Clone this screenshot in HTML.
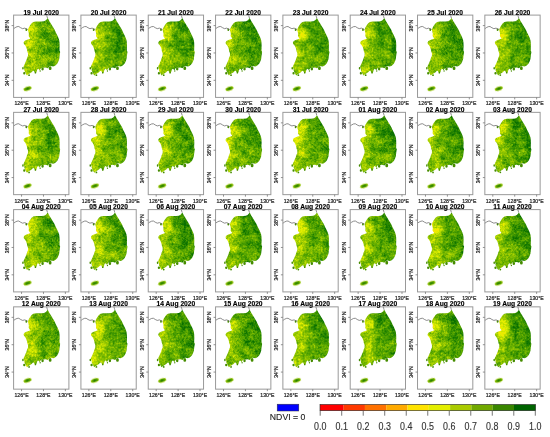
<!DOCTYPE html>
<html><head><meta charset="utf-8"><style>
html,body{margin:0;padding:0;background:#fff;width:550px;height:437px;overflow:hidden}
svg{display:block;will-change:transform}
text{font-family:"Liberation Sans",sans-serif}
.t{font-weight:bold;font-size:6.7px;fill:#000;stroke:#000;stroke-width:0.15;text-anchor:middle}
.a{font-size:5.2px;fill:#222;stroke:#222;stroke-width:0.2;text-anchor:middle}
.fr{fill:none;stroke:#999;stroke-width:1}
.tk{stroke:#777;stroke-width:0.8}
.nk{fill:none;stroke:#666;stroke-width:0.75}
</style></head><body>
<svg width="550" height="437" viewBox="0 0 550 437">
<defs>
<path id="kr" d="M14.61 13.57L15.49 11.97L16.37 10.37L18.01 8.10L19.66 6.90L22.40 6.49L25.14 6.36L27.88 6.36L30.40 6.23L31.93 5.43L33.03 4.36L33.90 2.89L34.67 3.96L35.66 5.83L36.97 7.96L38.29 10.23L39.38 11.97L41.03 14.64L42.34 17.57L43.77 20.51L44.86 22.91L45.63 25.05L45.96 27.59L46.07 30.92L45.96 33.60L45.96 35.60L46.62 36.80L46.29 38.67L45.96 40.94L45.63 44.01L44.86 46.14L43.77 48.28L42.34 50.02L41.03 50.95L39.60 51.35L38.51 51.08L37.19 50.95L35.88 51.22L34.78 52.55L33.90 53.09L33.03 52.55L31.71 52.29L30.40 52.69L28.97 52.55L27.55 52.82L26.67 54.15L26.12 55.49L25.36 54.15L24.26 53.62L23.49 54.95L22.94 56.82L21.96 58.03L20.86 56.96L20.31 55.76L19.11 56.02L18.01 57.09L16.81 57.89L15.71 58.69L14.40 59.49L13.41 60.43L12.53 59.23L11.76 57.36L10.78 55.76L10.67 53.62L9.90 52.02L10.34 50.28L11.00 49.08L11.87 47.21L12.86 44.94L13.41 42.81L14.40 40.54L14.40 38.27L13.63 36.26L13.30 34.26L12.53 31.99L11.55 30.26L10.34 28.79L10.01 27.45L10.89 25.85L12.86 24.78L15.05 24.25L16.81 23.45L15.71 22.11L15.05 20.78L15.27 18.64L14.83 16.77L14.40 15.17Z"/>
<path id="is" d="M35.11 53.09a1.42 1.87 0 1 0 2.85 0a1.42 1.87 0 1 0 -2.85 0ZM27.77 53.89a1.21 1.33 0 1 0 2.41 0a1.21 1.33 0 1 0 -2.41 0ZM25.90 55.89a0.66 0.80 0 1 0 1.32 0a0.66 0.80 0 1 0 -1.32 0ZM21.08 57.62a0.77 0.80 0 1 0 1.53 0a0.77 0.80 0 1 0 -1.53 0ZM14.61 60.03a0.88 0.80 0 1 0 1.75 0a0.88 0.80 0 1 0 -1.75 0ZM9.57 58.16a1.10 1.07 0 1 0 2.19 0a1.10 1.07 0 1 0 -2.19 0ZM8.59 53.09a0.77 1.07 0 1 0 1.53 0a0.77 1.07 0 1 0 -1.53 0ZM11.87 14.64a0.88 1.07 0 1 0 1.75 0a0.88 1.07 0 1 0 -1.75 0Z"/>
<path id="nk" d="M-0.07 13.70L1.57 12.50L3.44 11.57L5.19 11.43L7.05 12.64L9.02 13.57L11.22 13.04L12.86 13.84L14.18 14.37M33.90 2.89L33.47 1.55L32.92 -0.45"/>
<clipPath id="kc"><use href="#kr"/></clipPath>
<filter id="eb" x="-0.1" y="-0.1" width="1.2" height="1.2" color-interpolation-filters="sRGB"><feGaussianBlur stdDeviation="0.35"/></filter>
<radialGradient id="jg" cx="0.5" cy="0.5" r="0.5"><stop offset="0" stop-color="rgb(25,118,0)"/><stop offset="0.55" stop-color="rgb(78,155,0)"/><stop offset="1" stop-color="rgb(160,202,0)"/></radialGradient>
<filter id="jb" x="-0.3" y="-0.5" width="1.6" height="2"><feGaussianBlur stdDeviation="0.35"/></filter>
<ellipse id="jj" cx="13.95" cy="73.60" rx="4.1" ry="2.0" transform="rotate(-18 13.95 73.60)" fill="url(#jg)" filter="url(#jb)"/>
<linearGradient id="g0" gradientUnits="userSpaceOnUse" x1="10.89" y1="40" x2="43.77" y2="36"><stop offset="0.000" stop-color="rgb(175,175,175)"/><stop offset="0.233" stop-color="rgb(180,180,180)"/><stop offset="0.433" stop-color="rgb(193,193,193)"/><stop offset="0.667" stop-color="rgb(212,212,212)"/><stop offset="1.000" stop-color="rgb(219,219,219)"/></linearGradient>
<filter id="f0" x="0" y="0" width="1" height="1" color-interpolation-filters="sRGB">
<feTurbulence type="fractalNoise" baseFrequency="0.5" numOctaves="2" seed="3" result="n1"/>
<feTurbulence type="fractalNoise" baseFrequency="0.12" numOctaves="2" seed="5" result="n2"/>
<feColorMatrix in="n1" type="matrix" values="1 0 0 0 0  1 0 0 0 0  1 0 0 0 0  0 0 0 0 1" result="a1"/>
<feColorMatrix in="n2" type="matrix" values="1 0 0 0 0  1 0 0 0 0  1 0 0 0 0  0 0 0 0 1" result="a2"/>
<feComposite in="SourceGraphic" in2="a1" operator="arithmetic" k2="1" k3="0.3" k4="-0.150" result="v1"/>
<feComposite in="v1" in2="a2" operator="arithmetic" k2="1" k3="0.36" k4="-0.180" result="v2"/>
<feTurbulence type="fractalNoise" baseFrequency="0.55" numOctaves="1" seed="1" result="n3"/>
<feColorMatrix in="n3" type="matrix" values="0 1 0 0 0  0 1 0 0 0  0 1 0 0 0  0 0 0 0 1" result="s0"/>
<feComponentTransfer in="s0" result="s1"><feFuncR type="table" tableValues="0 0.15 0.45 0.8 1 1 1 1 1 1"/><feFuncG type="table" tableValues="0 0.15 0.45 0.8 1 1 1 1 1 1"/><feFuncB type="table" tableValues="0 0.15 0.45 0.8 1 1 1 1 1 1"/></feComponentTransfer>
<feComposite in="v2" in2="s1" operator="arithmetic" k2="1" k3="0.17" k4="-0.17" result="v"/>
<feComponentTransfer in="v">
<feFuncR type="table" tableValues="1.000 1.000 1.000 1.000 1.000 0.886 0.651 0.424 0.216 0.039"/>
<feFuncG type="table" tableValues="0.000 0.224 0.443 0.667 0.890 0.941 0.816 0.698 0.569 0.439"/>
<feFuncB type="table" tableValues="0.000 0.000 0.000 0.000 0.000 0.000 0.000 0.000 0.000 0.000"/>
<feFuncA type="linear" slope="0" intercept="1"/>
</feComponentTransfer>
<feGaussianBlur stdDeviation="0.5"/>
</filter>
<linearGradient id="g1" gradientUnits="userSpaceOnUse" x1="10.89" y1="40" x2="43.77" y2="36"><stop offset="0.000" stop-color="rgb(182,182,182)"/><stop offset="0.233" stop-color="rgb(187,187,187)"/><stop offset="0.433" stop-color="rgb(200,200,200)"/><stop offset="0.667" stop-color="rgb(219,219,219)"/><stop offset="1.000" stop-color="rgb(227,227,227)"/></linearGradient>
<filter id="f1" x="0" y="0" width="1" height="1" color-interpolation-filters="sRGB">
<feTurbulence type="fractalNoise" baseFrequency="0.5" numOctaves="2" seed="10" result="n1"/>
<feTurbulence type="fractalNoise" baseFrequency="0.12" numOctaves="2" seed="16" result="n2"/>
<feColorMatrix in="n1" type="matrix" values="1 0 0 0 0  1 0 0 0 0  1 0 0 0 0  0 0 0 0 1" result="a1"/>
<feColorMatrix in="n2" type="matrix" values="1 0 0 0 0  1 0 0 0 0  1 0 0 0 0  0 0 0 0 1" result="a2"/>
<feComposite in="SourceGraphic" in2="a1" operator="arithmetic" k2="1" k3="0.3" k4="-0.150" result="v1"/>
<feComposite in="v1" in2="a2" operator="arithmetic" k2="1" k3="0.36" k4="-0.180" result="v2"/>
<feTurbulence type="fractalNoise" baseFrequency="0.55" numOctaves="1" seed="14" result="n3"/>
<feColorMatrix in="n3" type="matrix" values="0 1 0 0 0  0 1 0 0 0  0 1 0 0 0  0 0 0 0 1" result="s0"/>
<feComponentTransfer in="s0" result="s1"><feFuncR type="table" tableValues="0 0.15 0.45 0.8 1 1 1 1 1 1"/><feFuncG type="table" tableValues="0 0.15 0.45 0.8 1 1 1 1 1 1"/><feFuncB type="table" tableValues="0 0.15 0.45 0.8 1 1 1 1 1 1"/></feComponentTransfer>
<feComposite in="v2" in2="s1" operator="arithmetic" k2="1" k3="0.17" k4="-0.17" result="v"/>
<feComponentTransfer in="v">
<feFuncR type="table" tableValues="1.000 1.000 1.000 1.000 1.000 0.886 0.651 0.424 0.216 0.039"/>
<feFuncG type="table" tableValues="0.000 0.224 0.443 0.667 0.890 0.941 0.816 0.698 0.569 0.439"/>
<feFuncB type="table" tableValues="0.000 0.000 0.000 0.000 0.000 0.000 0.000 0.000 0.000 0.000"/>
<feFuncA type="linear" slope="0" intercept="1"/>
</feComponentTransfer>
<feGaussianBlur stdDeviation="0.5"/>
</filter>
<linearGradient id="g2" gradientUnits="userSpaceOnUse" x1="10.89" y1="40" x2="43.77" y2="36"><stop offset="0.000" stop-color="rgb(182,182,182)"/><stop offset="0.233" stop-color="rgb(187,187,187)"/><stop offset="0.433" stop-color="rgb(200,200,200)"/><stop offset="0.667" stop-color="rgb(219,219,219)"/><stop offset="1.000" stop-color="rgb(227,227,227)"/></linearGradient>
<filter id="f2" x="0" y="0" width="1" height="1" color-interpolation-filters="sRGB">
<feTurbulence type="fractalNoise" baseFrequency="0.5" numOctaves="2" seed="17" result="n1"/>
<feTurbulence type="fractalNoise" baseFrequency="0.12" numOctaves="2" seed="27" result="n2"/>
<feColorMatrix in="n1" type="matrix" values="1 0 0 0 0  1 0 0 0 0  1 0 0 0 0  0 0 0 0 1" result="a1"/>
<feColorMatrix in="n2" type="matrix" values="1 0 0 0 0  1 0 0 0 0  1 0 0 0 0  0 0 0 0 1" result="a2"/>
<feComposite in="SourceGraphic" in2="a1" operator="arithmetic" k2="1" k3="0.3" k4="-0.150" result="v1"/>
<feComposite in="v1" in2="a2" operator="arithmetic" k2="1" k3="0.36" k4="-0.180" result="v2"/>
<feTurbulence type="fractalNoise" baseFrequency="0.55" numOctaves="1" seed="27" result="n3"/>
<feColorMatrix in="n3" type="matrix" values="0 1 0 0 0  0 1 0 0 0  0 1 0 0 0  0 0 0 0 1" result="s0"/>
<feComponentTransfer in="s0" result="s1"><feFuncR type="table" tableValues="0 0.15 0.45 0.8 1 1 1 1 1 1"/><feFuncG type="table" tableValues="0 0.15 0.45 0.8 1 1 1 1 1 1"/><feFuncB type="table" tableValues="0 0.15 0.45 0.8 1 1 1 1 1 1"/></feComponentTransfer>
<feComposite in="v2" in2="s1" operator="arithmetic" k2="1" k3="0.17" k4="-0.17" result="v"/>
<feComponentTransfer in="v">
<feFuncR type="table" tableValues="1.000 1.000 1.000 1.000 1.000 0.886 0.651 0.424 0.216 0.039"/>
<feFuncG type="table" tableValues="0.000 0.224 0.443 0.667 0.890 0.941 0.816 0.698 0.569 0.439"/>
<feFuncB type="table" tableValues="0.000 0.000 0.000 0.000 0.000 0.000 0.000 0.000 0.000 0.000"/>
<feFuncA type="linear" slope="0" intercept="1"/>
</feComponentTransfer>
<feGaussianBlur stdDeviation="0.5"/>
</filter>
<linearGradient id="g3" gradientUnits="userSpaceOnUse" x1="10.89" y1="40" x2="43.77" y2="36"><stop offset="0.000" stop-color="rgb(185,185,185)"/><stop offset="0.233" stop-color="rgb(190,190,190)"/><stop offset="0.433" stop-color="rgb(203,203,203)"/><stop offset="0.667" stop-color="rgb(222,222,222)"/><stop offset="1.000" stop-color="rgb(230,230,230)"/></linearGradient>
<filter id="f3" x="0" y="0" width="1" height="1" color-interpolation-filters="sRGB">
<feTurbulence type="fractalNoise" baseFrequency="0.5" numOctaves="2" seed="24" result="n1"/>
<feTurbulence type="fractalNoise" baseFrequency="0.12" numOctaves="2" seed="38" result="n2"/>
<feColorMatrix in="n1" type="matrix" values="1 0 0 0 0  1 0 0 0 0  1 0 0 0 0  0 0 0 0 1" result="a1"/>
<feColorMatrix in="n2" type="matrix" values="1 0 0 0 0  1 0 0 0 0  1 0 0 0 0  0 0 0 0 1" result="a2"/>
<feComposite in="SourceGraphic" in2="a1" operator="arithmetic" k2="1" k3="0.3" k4="-0.150" result="v1"/>
<feComposite in="v1" in2="a2" operator="arithmetic" k2="1" k3="0.36" k4="-0.180" result="v2"/>
<feTurbulence type="fractalNoise" baseFrequency="0.55" numOctaves="1" seed="40" result="n3"/>
<feColorMatrix in="n3" type="matrix" values="0 1 0 0 0  0 1 0 0 0  0 1 0 0 0  0 0 0 0 1" result="s0"/>
<feComponentTransfer in="s0" result="s1"><feFuncR type="table" tableValues="0 0.15 0.45 0.8 1 1 1 1 1 1"/><feFuncG type="table" tableValues="0 0.15 0.45 0.8 1 1 1 1 1 1"/><feFuncB type="table" tableValues="0 0.15 0.45 0.8 1 1 1 1 1 1"/></feComponentTransfer>
<feComposite in="v2" in2="s1" operator="arithmetic" k2="1" k3="0.17" k4="-0.17" result="v"/>
<feComponentTransfer in="v">
<feFuncR type="table" tableValues="1.000 1.000 1.000 1.000 1.000 0.886 0.651 0.424 0.216 0.039"/>
<feFuncG type="table" tableValues="0.000 0.224 0.443 0.667 0.890 0.941 0.816 0.698 0.569 0.439"/>
<feFuncB type="table" tableValues="0.000 0.000 0.000 0.000 0.000 0.000 0.000 0.000 0.000 0.000"/>
<feFuncA type="linear" slope="0" intercept="1"/>
</feComponentTransfer>
<feGaussianBlur stdDeviation="0.5"/>
</filter>
<linearGradient id="g4" gradientUnits="userSpaceOnUse" x1="10.89" y1="40" x2="43.77" y2="36"><stop offset="0.000" stop-color="rgb(182,182,182)"/><stop offset="0.233" stop-color="rgb(187,187,187)"/><stop offset="0.433" stop-color="rgb(200,200,200)"/><stop offset="0.667" stop-color="rgb(219,219,219)"/><stop offset="1.000" stop-color="rgb(227,227,227)"/></linearGradient>
<filter id="f4" x="0" y="0" width="1" height="1" color-interpolation-filters="sRGB">
<feTurbulence type="fractalNoise" baseFrequency="0.5" numOctaves="2" seed="31" result="n1"/>
<feTurbulence type="fractalNoise" baseFrequency="0.12" numOctaves="2" seed="49" result="n2"/>
<feColorMatrix in="n1" type="matrix" values="1 0 0 0 0  1 0 0 0 0  1 0 0 0 0  0 0 0 0 1" result="a1"/>
<feColorMatrix in="n2" type="matrix" values="1 0 0 0 0  1 0 0 0 0  1 0 0 0 0  0 0 0 0 1" result="a2"/>
<feComposite in="SourceGraphic" in2="a1" operator="arithmetic" k2="1" k3="0.3" k4="-0.150" result="v1"/>
<feComposite in="v1" in2="a2" operator="arithmetic" k2="1" k3="0.36" k4="-0.180" result="v2"/>
<feTurbulence type="fractalNoise" baseFrequency="0.55" numOctaves="1" seed="53" result="n3"/>
<feColorMatrix in="n3" type="matrix" values="0 1 0 0 0  0 1 0 0 0  0 1 0 0 0  0 0 0 0 1" result="s0"/>
<feComponentTransfer in="s0" result="s1"><feFuncR type="table" tableValues="0 0.15 0.45 0.8 1 1 1 1 1 1"/><feFuncG type="table" tableValues="0 0.15 0.45 0.8 1 1 1 1 1 1"/><feFuncB type="table" tableValues="0 0.15 0.45 0.8 1 1 1 1 1 1"/></feComponentTransfer>
<feComposite in="v2" in2="s1" operator="arithmetic" k2="1" k3="0.17" k4="-0.17" result="v"/>
<feComponentTransfer in="v">
<feFuncR type="table" tableValues="1.000 1.000 1.000 1.000 1.000 0.886 0.651 0.424 0.216 0.039"/>
<feFuncG type="table" tableValues="0.000 0.224 0.443 0.667 0.890 0.941 0.816 0.698 0.569 0.439"/>
<feFuncB type="table" tableValues="0.000 0.000 0.000 0.000 0.000 0.000 0.000 0.000 0.000 0.000"/>
<feFuncA type="linear" slope="0" intercept="1"/>
</feComponentTransfer>
<feGaussianBlur stdDeviation="0.5"/>
</filter>
<linearGradient id="g5" gradientUnits="userSpaceOnUse" x1="10.89" y1="40" x2="43.77" y2="36"><stop offset="0.000" stop-color="rgb(182,182,182)"/><stop offset="0.233" stop-color="rgb(187,187,187)"/><stop offset="0.433" stop-color="rgb(200,200,200)"/><stop offset="0.667" stop-color="rgb(219,219,219)"/><stop offset="1.000" stop-color="rgb(227,227,227)"/></linearGradient>
<filter id="f5" x="0" y="0" width="1" height="1" color-interpolation-filters="sRGB">
<feTurbulence type="fractalNoise" baseFrequency="0.5" numOctaves="2" seed="38" result="n1"/>
<feTurbulence type="fractalNoise" baseFrequency="0.12" numOctaves="2" seed="60" result="n2"/>
<feColorMatrix in="n1" type="matrix" values="1 0 0 0 0  1 0 0 0 0  1 0 0 0 0  0 0 0 0 1" result="a1"/>
<feColorMatrix in="n2" type="matrix" values="1 0 0 0 0  1 0 0 0 0  1 0 0 0 0  0 0 0 0 1" result="a2"/>
<feComposite in="SourceGraphic" in2="a1" operator="arithmetic" k2="1" k3="0.3" k4="-0.150" result="v1"/>
<feComposite in="v1" in2="a2" operator="arithmetic" k2="1" k3="0.36" k4="-0.180" result="v2"/>
<feTurbulence type="fractalNoise" baseFrequency="0.55" numOctaves="1" seed="66" result="n3"/>
<feColorMatrix in="n3" type="matrix" values="0 1 0 0 0  0 1 0 0 0  0 1 0 0 0  0 0 0 0 1" result="s0"/>
<feComponentTransfer in="s0" result="s1"><feFuncR type="table" tableValues="0 0.15 0.45 0.8 1 1 1 1 1 1"/><feFuncG type="table" tableValues="0 0.15 0.45 0.8 1 1 1 1 1 1"/><feFuncB type="table" tableValues="0 0.15 0.45 0.8 1 1 1 1 1 1"/></feComponentTransfer>
<feComposite in="v2" in2="s1" operator="arithmetic" k2="1" k3="0.17" k4="-0.17" result="v"/>
<feComponentTransfer in="v">
<feFuncR type="table" tableValues="1.000 1.000 1.000 1.000 1.000 0.886 0.651 0.424 0.216 0.039"/>
<feFuncG type="table" tableValues="0.000 0.224 0.443 0.667 0.890 0.941 0.816 0.698 0.569 0.439"/>
<feFuncB type="table" tableValues="0.000 0.000 0.000 0.000 0.000 0.000 0.000 0.000 0.000 0.000"/>
<feFuncA type="linear" slope="0" intercept="1"/>
</feComponentTransfer>
<feGaussianBlur stdDeviation="0.5"/>
</filter>
<linearGradient id="g6" gradientUnits="userSpaceOnUse" x1="10.89" y1="40" x2="43.77" y2="36"><stop offset="0.000" stop-color="rgb(187,187,187)"/><stop offset="0.233" stop-color="rgb(193,193,193)"/><stop offset="0.433" stop-color="rgb(205,205,205)"/><stop offset="0.667" stop-color="rgb(224,224,224)"/><stop offset="1.000" stop-color="rgb(232,232,232)"/></linearGradient>
<filter id="f6" x="0" y="0" width="1" height="1" color-interpolation-filters="sRGB">
<feTurbulence type="fractalNoise" baseFrequency="0.5" numOctaves="2" seed="45" result="n1"/>
<feTurbulence type="fractalNoise" baseFrequency="0.12" numOctaves="2" seed="71" result="n2"/>
<feColorMatrix in="n1" type="matrix" values="1 0 0 0 0  1 0 0 0 0  1 0 0 0 0  0 0 0 0 1" result="a1"/>
<feColorMatrix in="n2" type="matrix" values="1 0 0 0 0  1 0 0 0 0  1 0 0 0 0  0 0 0 0 1" result="a2"/>
<feComposite in="SourceGraphic" in2="a1" operator="arithmetic" k2="1" k3="0.3" k4="-0.150" result="v1"/>
<feComposite in="v1" in2="a2" operator="arithmetic" k2="1" k3="0.36" k4="-0.180" result="v2"/>
<feTurbulence type="fractalNoise" baseFrequency="0.55" numOctaves="1" seed="79" result="n3"/>
<feColorMatrix in="n3" type="matrix" values="0 1 0 0 0  0 1 0 0 0  0 1 0 0 0  0 0 0 0 1" result="s0"/>
<feComponentTransfer in="s0" result="s1"><feFuncR type="table" tableValues="0 0.15 0.45 0.8 1 1 1 1 1 1"/><feFuncG type="table" tableValues="0 0.15 0.45 0.8 1 1 1 1 1 1"/><feFuncB type="table" tableValues="0 0.15 0.45 0.8 1 1 1 1 1 1"/></feComponentTransfer>
<feComposite in="v2" in2="s1" operator="arithmetic" k2="1" k3="0.17" k4="-0.17" result="v"/>
<feComponentTransfer in="v">
<feFuncR type="table" tableValues="1.000 1.000 1.000 1.000 1.000 0.886 0.651 0.424 0.216 0.039"/>
<feFuncG type="table" tableValues="0.000 0.224 0.443 0.667 0.890 0.941 0.816 0.698 0.569 0.439"/>
<feFuncB type="table" tableValues="0.000 0.000 0.000 0.000 0.000 0.000 0.000 0.000 0.000 0.000"/>
<feFuncA type="linear" slope="0" intercept="1"/>
</feComponentTransfer>
<feGaussianBlur stdDeviation="0.5"/>
</filter>
<linearGradient id="g7" gradientUnits="userSpaceOnUse" x1="10.89" y1="40" x2="43.77" y2="36"><stop offset="0.000" stop-color="rgb(182,182,182)"/><stop offset="0.233" stop-color="rgb(187,187,187)"/><stop offset="0.433" stop-color="rgb(200,200,200)"/><stop offset="0.667" stop-color="rgb(219,219,219)"/><stop offset="1.000" stop-color="rgb(227,227,227)"/></linearGradient>
<filter id="f7" x="0" y="0" width="1" height="1" color-interpolation-filters="sRGB">
<feTurbulence type="fractalNoise" baseFrequency="0.5" numOctaves="2" seed="52" result="n1"/>
<feTurbulence type="fractalNoise" baseFrequency="0.12" numOctaves="2" seed="82" result="n2"/>
<feColorMatrix in="n1" type="matrix" values="1 0 0 0 0  1 0 0 0 0  1 0 0 0 0  0 0 0 0 1" result="a1"/>
<feColorMatrix in="n2" type="matrix" values="1 0 0 0 0  1 0 0 0 0  1 0 0 0 0  0 0 0 0 1" result="a2"/>
<feComposite in="SourceGraphic" in2="a1" operator="arithmetic" k2="1" k3="0.3" k4="-0.150" result="v1"/>
<feComposite in="v1" in2="a2" operator="arithmetic" k2="1" k3="0.36" k4="-0.180" result="v2"/>
<feTurbulence type="fractalNoise" baseFrequency="0.55" numOctaves="1" seed="92" result="n3"/>
<feColorMatrix in="n3" type="matrix" values="0 1 0 0 0  0 1 0 0 0  0 1 0 0 0  0 0 0 0 1" result="s0"/>
<feComponentTransfer in="s0" result="s1"><feFuncR type="table" tableValues="0 0.15 0.45 0.8 1 1 1 1 1 1"/><feFuncG type="table" tableValues="0 0.15 0.45 0.8 1 1 1 1 1 1"/><feFuncB type="table" tableValues="0 0.15 0.45 0.8 1 1 1 1 1 1"/></feComponentTransfer>
<feComposite in="v2" in2="s1" operator="arithmetic" k2="1" k3="0.17" k4="-0.17" result="v"/>
<feComponentTransfer in="v">
<feFuncR type="table" tableValues="1.000 1.000 1.000 1.000 1.000 0.886 0.651 0.424 0.216 0.039"/>
<feFuncG type="table" tableValues="0.000 0.224 0.443 0.667 0.890 0.941 0.816 0.698 0.569 0.439"/>
<feFuncB type="table" tableValues="0.000 0.000 0.000 0.000 0.000 0.000 0.000 0.000 0.000 0.000"/>
<feFuncA type="linear" slope="0" intercept="1"/>
</feComponentTransfer>
<feGaussianBlur stdDeviation="0.5"/>
</filter>
<linearGradient id="g8" gradientUnits="userSpaceOnUse" x1="10.89" y1="40" x2="43.77" y2="36"><stop offset="0.000" stop-color="rgb(176,176,176)"/><stop offset="0.233" stop-color="rgb(181,181,181)"/><stop offset="0.433" stop-color="rgb(194,194,194)"/><stop offset="0.667" stop-color="rgb(213,213,213)"/><stop offset="1.000" stop-color="rgb(221,221,221)"/></linearGradient>
<filter id="f8" x="0" y="0" width="1" height="1" color-interpolation-filters="sRGB">
<feTurbulence type="fractalNoise" baseFrequency="0.5" numOctaves="2" seed="59" result="n1"/>
<feTurbulence type="fractalNoise" baseFrequency="0.12" numOctaves="2" seed="93" result="n2"/>
<feColorMatrix in="n1" type="matrix" values="1 0 0 0 0  1 0 0 0 0  1 0 0 0 0  0 0 0 0 1" result="a1"/>
<feColorMatrix in="n2" type="matrix" values="1 0 0 0 0  1 0 0 0 0  1 0 0 0 0  0 0 0 0 1" result="a2"/>
<feComposite in="SourceGraphic" in2="a1" operator="arithmetic" k2="1" k3="0.3" k4="-0.150" result="v1"/>
<feComposite in="v1" in2="a2" operator="arithmetic" k2="1" k3="0.36" k4="-0.180" result="v2"/>
<feTurbulence type="fractalNoise" baseFrequency="0.55" numOctaves="1" seed="105" result="n3"/>
<feColorMatrix in="n3" type="matrix" values="0 1 0 0 0  0 1 0 0 0  0 1 0 0 0  0 0 0 0 1" result="s0"/>
<feComponentTransfer in="s0" result="s1"><feFuncR type="table" tableValues="0 0.15 0.45 0.8 1 1 1 1 1 1"/><feFuncG type="table" tableValues="0 0.15 0.45 0.8 1 1 1 1 1 1"/><feFuncB type="table" tableValues="0 0.15 0.45 0.8 1 1 1 1 1 1"/></feComponentTransfer>
<feComposite in="v2" in2="s1" operator="arithmetic" k2="1" k3="0.17" k4="-0.17" result="v"/>
<feComponentTransfer in="v">
<feFuncR type="table" tableValues="1.000 1.000 1.000 1.000 1.000 0.886 0.651 0.424 0.216 0.039"/>
<feFuncG type="table" tableValues="0.000 0.224 0.443 0.667 0.890 0.941 0.816 0.698 0.569 0.439"/>
<feFuncB type="table" tableValues="0.000 0.000 0.000 0.000 0.000 0.000 0.000 0.000 0.000 0.000"/>
<feFuncA type="linear" slope="0" intercept="1"/>
</feComponentTransfer>
<feGaussianBlur stdDeviation="0.5"/>
</filter>
<linearGradient id="g9" gradientUnits="userSpaceOnUse" x1="10.89" y1="40" x2="43.77" y2="36"><stop offset="0.000" stop-color="rgb(176,176,176)"/><stop offset="0.233" stop-color="rgb(181,181,181)"/><stop offset="0.433" stop-color="rgb(194,194,194)"/><stop offset="0.667" stop-color="rgb(213,213,213)"/><stop offset="1.000" stop-color="rgb(221,221,221)"/></linearGradient>
<filter id="f9" x="0" y="0" width="1" height="1" color-interpolation-filters="sRGB">
<feTurbulence type="fractalNoise" baseFrequency="0.5" numOctaves="2" seed="66" result="n1"/>
<feTurbulence type="fractalNoise" baseFrequency="0.12" numOctaves="2" seed="104" result="n2"/>
<feColorMatrix in="n1" type="matrix" values="1 0 0 0 0  1 0 0 0 0  1 0 0 0 0  0 0 0 0 1" result="a1"/>
<feColorMatrix in="n2" type="matrix" values="1 0 0 0 0  1 0 0 0 0  1 0 0 0 0  0 0 0 0 1" result="a2"/>
<feComposite in="SourceGraphic" in2="a1" operator="arithmetic" k2="1" k3="0.3" k4="-0.150" result="v1"/>
<feComposite in="v1" in2="a2" operator="arithmetic" k2="1" k3="0.36" k4="-0.180" result="v2"/>
<feTurbulence type="fractalNoise" baseFrequency="0.55" numOctaves="1" seed="118" result="n3"/>
<feColorMatrix in="n3" type="matrix" values="0 1 0 0 0  0 1 0 0 0  0 1 0 0 0  0 0 0 0 1" result="s0"/>
<feComponentTransfer in="s0" result="s1"><feFuncR type="table" tableValues="0 0.15 0.45 0.8 1 1 1 1 1 1"/><feFuncG type="table" tableValues="0 0.15 0.45 0.8 1 1 1 1 1 1"/><feFuncB type="table" tableValues="0 0.15 0.45 0.8 1 1 1 1 1 1"/></feComponentTransfer>
<feComposite in="v2" in2="s1" operator="arithmetic" k2="1" k3="0.17" k4="-0.17" result="v"/>
<feComponentTransfer in="v">
<feFuncR type="table" tableValues="1.000 1.000 1.000 1.000 1.000 0.886 0.651 0.424 0.216 0.039"/>
<feFuncG type="table" tableValues="0.000 0.224 0.443 0.667 0.890 0.941 0.816 0.698 0.569 0.439"/>
<feFuncB type="table" tableValues="0.000 0.000 0.000 0.000 0.000 0.000 0.000 0.000 0.000 0.000"/>
<feFuncA type="linear" slope="0" intercept="1"/>
</feComponentTransfer>
<feGaussianBlur stdDeviation="0.5"/>
</filter>
<linearGradient id="g10" gradientUnits="userSpaceOnUse" x1="10.89" y1="40" x2="43.77" y2="36"><stop offset="0.000" stop-color="rgb(182,182,182)"/><stop offset="0.233" stop-color="rgb(187,187,187)"/><stop offset="0.433" stop-color="rgb(200,200,200)"/><stop offset="0.667" stop-color="rgb(219,219,219)"/><stop offset="1.000" stop-color="rgb(227,227,227)"/></linearGradient>
<filter id="f10" x="0" y="0" width="1" height="1" color-interpolation-filters="sRGB">
<feTurbulence type="fractalNoise" baseFrequency="0.5" numOctaves="2" seed="73" result="n1"/>
<feTurbulence type="fractalNoise" baseFrequency="0.12" numOctaves="2" seed="115" result="n2"/>
<feColorMatrix in="n1" type="matrix" values="1 0 0 0 0  1 0 0 0 0  1 0 0 0 0  0 0 0 0 1" result="a1"/>
<feColorMatrix in="n2" type="matrix" values="1 0 0 0 0  1 0 0 0 0  1 0 0 0 0  0 0 0 0 1" result="a2"/>
<feComposite in="SourceGraphic" in2="a1" operator="arithmetic" k2="1" k3="0.3" k4="-0.150" result="v1"/>
<feComposite in="v1" in2="a2" operator="arithmetic" k2="1" k3="0.36" k4="-0.180" result="v2"/>
<feTurbulence type="fractalNoise" baseFrequency="0.55" numOctaves="1" seed="131" result="n3"/>
<feColorMatrix in="n3" type="matrix" values="0 1 0 0 0  0 1 0 0 0  0 1 0 0 0  0 0 0 0 1" result="s0"/>
<feComponentTransfer in="s0" result="s1"><feFuncR type="table" tableValues="0 0.15 0.45 0.8 1 1 1 1 1 1"/><feFuncG type="table" tableValues="0 0.15 0.45 0.8 1 1 1 1 1 1"/><feFuncB type="table" tableValues="0 0.15 0.45 0.8 1 1 1 1 1 1"/></feComponentTransfer>
<feComposite in="v2" in2="s1" operator="arithmetic" k2="1" k3="0.17" k4="-0.17" result="v"/>
<feComponentTransfer in="v">
<feFuncR type="table" tableValues="1.000 1.000 1.000 1.000 1.000 0.886 0.651 0.424 0.216 0.039"/>
<feFuncG type="table" tableValues="0.000 0.224 0.443 0.667 0.890 0.941 0.816 0.698 0.569 0.439"/>
<feFuncB type="table" tableValues="0.000 0.000 0.000 0.000 0.000 0.000 0.000 0.000 0.000 0.000"/>
<feFuncA type="linear" slope="0" intercept="1"/>
</feComponentTransfer>
<feGaussianBlur stdDeviation="0.5"/>
</filter>
<linearGradient id="g11" gradientUnits="userSpaceOnUse" x1="10.89" y1="40" x2="43.77" y2="36"><stop offset="0.000" stop-color="rgb(180,180,180)"/><stop offset="0.233" stop-color="rgb(185,185,185)"/><stop offset="0.433" stop-color="rgb(198,198,198)"/><stop offset="0.667" stop-color="rgb(217,217,217)"/><stop offset="1.000" stop-color="rgb(224,224,224)"/></linearGradient>
<filter id="f11" x="0" y="0" width="1" height="1" color-interpolation-filters="sRGB">
<feTurbulence type="fractalNoise" baseFrequency="0.5" numOctaves="2" seed="80" result="n1"/>
<feTurbulence type="fractalNoise" baseFrequency="0.12" numOctaves="2" seed="126" result="n2"/>
<feColorMatrix in="n1" type="matrix" values="1 0 0 0 0  1 0 0 0 0  1 0 0 0 0  0 0 0 0 1" result="a1"/>
<feColorMatrix in="n2" type="matrix" values="1 0 0 0 0  1 0 0 0 0  1 0 0 0 0  0 0 0 0 1" result="a2"/>
<feComposite in="SourceGraphic" in2="a1" operator="arithmetic" k2="1" k3="0.3" k4="-0.150" result="v1"/>
<feComposite in="v1" in2="a2" operator="arithmetic" k2="1" k3="0.36" k4="-0.180" result="v2"/>
<feTurbulence type="fractalNoise" baseFrequency="0.55" numOctaves="1" seed="144" result="n3"/>
<feColorMatrix in="n3" type="matrix" values="0 1 0 0 0  0 1 0 0 0  0 1 0 0 0  0 0 0 0 1" result="s0"/>
<feComponentTransfer in="s0" result="s1"><feFuncR type="table" tableValues="0 0.15 0.45 0.8 1 1 1 1 1 1"/><feFuncG type="table" tableValues="0 0.15 0.45 0.8 1 1 1 1 1 1"/><feFuncB type="table" tableValues="0 0.15 0.45 0.8 1 1 1 1 1 1"/></feComponentTransfer>
<feComposite in="v2" in2="s1" operator="arithmetic" k2="1" k3="0.17" k4="-0.17" result="v"/>
<feComponentTransfer in="v">
<feFuncR type="table" tableValues="1.000 1.000 1.000 1.000 1.000 0.886 0.651 0.424 0.216 0.039"/>
<feFuncG type="table" tableValues="0.000 0.224 0.443 0.667 0.890 0.941 0.816 0.698 0.569 0.439"/>
<feFuncB type="table" tableValues="0.000 0.000 0.000 0.000 0.000 0.000 0.000 0.000 0.000 0.000"/>
<feFuncA type="linear" slope="0" intercept="1"/>
</feComponentTransfer>
<feGaussianBlur stdDeviation="0.5"/>
</filter>
<linearGradient id="g12" gradientUnits="userSpaceOnUse" x1="10.89" y1="40" x2="43.77" y2="36"><stop offset="0.000" stop-color="rgb(176,176,176)"/><stop offset="0.233" stop-color="rgb(181,181,181)"/><stop offset="0.433" stop-color="rgb(194,194,194)"/><stop offset="0.667" stop-color="rgb(213,213,213)"/><stop offset="1.000" stop-color="rgb(221,221,221)"/></linearGradient>
<filter id="f12" x="0" y="0" width="1" height="1" color-interpolation-filters="sRGB">
<feTurbulence type="fractalNoise" baseFrequency="0.5" numOctaves="2" seed="87" result="n1"/>
<feTurbulence type="fractalNoise" baseFrequency="0.12" numOctaves="2" seed="137" result="n2"/>
<feColorMatrix in="n1" type="matrix" values="1 0 0 0 0  1 0 0 0 0  1 0 0 0 0  0 0 0 0 1" result="a1"/>
<feColorMatrix in="n2" type="matrix" values="1 0 0 0 0  1 0 0 0 0  1 0 0 0 0  0 0 0 0 1" result="a2"/>
<feComposite in="SourceGraphic" in2="a1" operator="arithmetic" k2="1" k3="0.3" k4="-0.150" result="v1"/>
<feComposite in="v1" in2="a2" operator="arithmetic" k2="1" k3="0.36" k4="-0.180" result="v2"/>
<feTurbulence type="fractalNoise" baseFrequency="0.55" numOctaves="1" seed="157" result="n3"/>
<feColorMatrix in="n3" type="matrix" values="0 1 0 0 0  0 1 0 0 0  0 1 0 0 0  0 0 0 0 1" result="s0"/>
<feComponentTransfer in="s0" result="s1"><feFuncR type="table" tableValues="0 0.15 0.45 0.8 1 1 1 1 1 1"/><feFuncG type="table" tableValues="0 0.15 0.45 0.8 1 1 1 1 1 1"/><feFuncB type="table" tableValues="0 0.15 0.45 0.8 1 1 1 1 1 1"/></feComponentTransfer>
<feComposite in="v2" in2="s1" operator="arithmetic" k2="1" k3="0.17" k4="-0.17" result="v"/>
<feComponentTransfer in="v">
<feFuncR type="table" tableValues="1.000 1.000 1.000 1.000 1.000 0.886 0.651 0.424 0.216 0.039"/>
<feFuncG type="table" tableValues="0.000 0.224 0.443 0.667 0.890 0.941 0.816 0.698 0.569 0.439"/>
<feFuncB type="table" tableValues="0.000 0.000 0.000 0.000 0.000 0.000 0.000 0.000 0.000 0.000"/>
<feFuncA type="linear" slope="0" intercept="1"/>
</feComponentTransfer>
<feGaussianBlur stdDeviation="0.5"/>
</filter>
<linearGradient id="g13" gradientUnits="userSpaceOnUse" x1="10.89" y1="40" x2="43.77" y2="36"><stop offset="0.000" stop-color="rgb(186,186,186)"/><stop offset="0.233" stop-color="rgb(191,191,191)"/><stop offset="0.433" stop-color="rgb(204,204,204)"/><stop offset="0.667" stop-color="rgb(223,223,223)"/><stop offset="1.000" stop-color="rgb(231,231,231)"/></linearGradient>
<filter id="f13" x="0" y="0" width="1" height="1" color-interpolation-filters="sRGB">
<feTurbulence type="fractalNoise" baseFrequency="0.5" numOctaves="2" seed="94" result="n1"/>
<feTurbulence type="fractalNoise" baseFrequency="0.12" numOctaves="2" seed="148" result="n2"/>
<feColorMatrix in="n1" type="matrix" values="1 0 0 0 0  1 0 0 0 0  1 0 0 0 0  0 0 0 0 1" result="a1"/>
<feColorMatrix in="n2" type="matrix" values="1 0 0 0 0  1 0 0 0 0  1 0 0 0 0  0 0 0 0 1" result="a2"/>
<feComposite in="SourceGraphic" in2="a1" operator="arithmetic" k2="1" k3="0.3" k4="-0.150" result="v1"/>
<feComposite in="v1" in2="a2" operator="arithmetic" k2="1" k3="0.36" k4="-0.180" result="v2"/>
<feTurbulence type="fractalNoise" baseFrequency="0.55" numOctaves="1" seed="170" result="n3"/>
<feColorMatrix in="n3" type="matrix" values="0 1 0 0 0  0 1 0 0 0  0 1 0 0 0  0 0 0 0 1" result="s0"/>
<feComponentTransfer in="s0" result="s1"><feFuncR type="table" tableValues="0 0.15 0.45 0.8 1 1 1 1 1 1"/><feFuncG type="table" tableValues="0 0.15 0.45 0.8 1 1 1 1 1 1"/><feFuncB type="table" tableValues="0 0.15 0.45 0.8 1 1 1 1 1 1"/></feComponentTransfer>
<feComposite in="v2" in2="s1" operator="arithmetic" k2="1" k3="0.17" k4="-0.17" result="v"/>
<feComponentTransfer in="v">
<feFuncR type="table" tableValues="1.000 1.000 1.000 1.000 1.000 0.886 0.651 0.424 0.216 0.039"/>
<feFuncG type="table" tableValues="0.000 0.224 0.443 0.667 0.890 0.941 0.816 0.698 0.569 0.439"/>
<feFuncB type="table" tableValues="0.000 0.000 0.000 0.000 0.000 0.000 0.000 0.000 0.000 0.000"/>
<feFuncA type="linear" slope="0" intercept="1"/>
</feComponentTransfer>
<feGaussianBlur stdDeviation="0.5"/>
</filter>
<linearGradient id="g14" gradientUnits="userSpaceOnUse" x1="10.89" y1="40" x2="43.77" y2="36"><stop offset="0.000" stop-color="rgb(185,185,185)"/><stop offset="0.233" stop-color="rgb(190,190,190)"/><stop offset="0.433" stop-color="rgb(203,203,203)"/><stop offset="0.667" stop-color="rgb(222,222,222)"/><stop offset="1.000" stop-color="rgb(230,230,230)"/></linearGradient>
<filter id="f14" x="0" y="0" width="1" height="1" color-interpolation-filters="sRGB">
<feTurbulence type="fractalNoise" baseFrequency="0.5" numOctaves="2" seed="101" result="n1"/>
<feTurbulence type="fractalNoise" baseFrequency="0.12" numOctaves="2" seed="159" result="n2"/>
<feColorMatrix in="n1" type="matrix" values="1 0 0 0 0  1 0 0 0 0  1 0 0 0 0  0 0 0 0 1" result="a1"/>
<feColorMatrix in="n2" type="matrix" values="1 0 0 0 0  1 0 0 0 0  1 0 0 0 0  0 0 0 0 1" result="a2"/>
<feComposite in="SourceGraphic" in2="a1" operator="arithmetic" k2="1" k3="0.3" k4="-0.150" result="v1"/>
<feComposite in="v1" in2="a2" operator="arithmetic" k2="1" k3="0.36" k4="-0.180" result="v2"/>
<feTurbulence type="fractalNoise" baseFrequency="0.55" numOctaves="1" seed="183" result="n3"/>
<feColorMatrix in="n3" type="matrix" values="0 1 0 0 0  0 1 0 0 0  0 1 0 0 0  0 0 0 0 1" result="s0"/>
<feComponentTransfer in="s0" result="s1"><feFuncR type="table" tableValues="0 0.15 0.45 0.8 1 1 1 1 1 1"/><feFuncG type="table" tableValues="0 0.15 0.45 0.8 1 1 1 1 1 1"/><feFuncB type="table" tableValues="0 0.15 0.45 0.8 1 1 1 1 1 1"/></feComponentTransfer>
<feComposite in="v2" in2="s1" operator="arithmetic" k2="1" k3="0.17" k4="-0.17" result="v"/>
<feComponentTransfer in="v">
<feFuncR type="table" tableValues="1.000 1.000 1.000 1.000 1.000 0.886 0.651 0.424 0.216 0.039"/>
<feFuncG type="table" tableValues="0.000 0.224 0.443 0.667 0.890 0.941 0.816 0.698 0.569 0.439"/>
<feFuncB type="table" tableValues="0.000 0.000 0.000 0.000 0.000 0.000 0.000 0.000 0.000 0.000"/>
<feFuncA type="linear" slope="0" intercept="1"/>
</feComponentTransfer>
<feGaussianBlur stdDeviation="0.5"/>
</filter>
<linearGradient id="g15" gradientUnits="userSpaceOnUse" x1="10.89" y1="40" x2="43.77" y2="36"><stop offset="0.000" stop-color="rgb(187,187,187)"/><stop offset="0.233" stop-color="rgb(193,193,193)"/><stop offset="0.433" stop-color="rgb(205,205,205)"/><stop offset="0.667" stop-color="rgb(224,224,224)"/><stop offset="1.000" stop-color="rgb(232,232,232)"/></linearGradient>
<filter id="f15" x="0" y="0" width="1" height="1" color-interpolation-filters="sRGB">
<feTurbulence type="fractalNoise" baseFrequency="0.5" numOctaves="2" seed="108" result="n1"/>
<feTurbulence type="fractalNoise" baseFrequency="0.12" numOctaves="2" seed="170" result="n2"/>
<feColorMatrix in="n1" type="matrix" values="1 0 0 0 0  1 0 0 0 0  1 0 0 0 0  0 0 0 0 1" result="a1"/>
<feColorMatrix in="n2" type="matrix" values="1 0 0 0 0  1 0 0 0 0  1 0 0 0 0  0 0 0 0 1" result="a2"/>
<feComposite in="SourceGraphic" in2="a1" operator="arithmetic" k2="1" k3="0.3" k4="-0.150" result="v1"/>
<feComposite in="v1" in2="a2" operator="arithmetic" k2="1" k3="0.36" k4="-0.180" result="v2"/>
<feTurbulence type="fractalNoise" baseFrequency="0.55" numOctaves="1" seed="196" result="n3"/>
<feColorMatrix in="n3" type="matrix" values="0 1 0 0 0  0 1 0 0 0  0 1 0 0 0  0 0 0 0 1" result="s0"/>
<feComponentTransfer in="s0" result="s1"><feFuncR type="table" tableValues="0 0.15 0.45 0.8 1 1 1 1 1 1"/><feFuncG type="table" tableValues="0 0.15 0.45 0.8 1 1 1 1 1 1"/><feFuncB type="table" tableValues="0 0.15 0.45 0.8 1 1 1 1 1 1"/></feComponentTransfer>
<feComposite in="v2" in2="s1" operator="arithmetic" k2="1" k3="0.17" k4="-0.17" result="v"/>
<feComponentTransfer in="v">
<feFuncR type="table" tableValues="1.000 1.000 1.000 1.000 1.000 0.886 0.651 0.424 0.216 0.039"/>
<feFuncG type="table" tableValues="0.000 0.224 0.443 0.667 0.890 0.941 0.816 0.698 0.569 0.439"/>
<feFuncB type="table" tableValues="0.000 0.000 0.000 0.000 0.000 0.000 0.000 0.000 0.000 0.000"/>
<feFuncA type="linear" slope="0" intercept="1"/>
</feComponentTransfer>
<feGaussianBlur stdDeviation="0.5"/>
</filter>
<linearGradient id="g16" gradientUnits="userSpaceOnUse" x1="10.89" y1="40" x2="43.77" y2="36"><stop offset="0.000" stop-color="rgb(176,176,176)"/><stop offset="0.233" stop-color="rgb(181,181,181)"/><stop offset="0.433" stop-color="rgb(194,194,194)"/><stop offset="0.667" stop-color="rgb(213,213,213)"/><stop offset="1.000" stop-color="rgb(221,221,221)"/></linearGradient>
<filter id="f16" x="0" y="0" width="1" height="1" color-interpolation-filters="sRGB">
<feTurbulence type="fractalNoise" baseFrequency="0.5" numOctaves="2" seed="115" result="n1"/>
<feTurbulence type="fractalNoise" baseFrequency="0.12" numOctaves="2" seed="181" result="n2"/>
<feColorMatrix in="n1" type="matrix" values="1 0 0 0 0  1 0 0 0 0  1 0 0 0 0  0 0 0 0 1" result="a1"/>
<feColorMatrix in="n2" type="matrix" values="1 0 0 0 0  1 0 0 0 0  1 0 0 0 0  0 0 0 0 1" result="a2"/>
<feComposite in="SourceGraphic" in2="a1" operator="arithmetic" k2="1" k3="0.3" k4="-0.150" result="v1"/>
<feComposite in="v1" in2="a2" operator="arithmetic" k2="1" k3="0.36" k4="-0.180" result="v2"/>
<feTurbulence type="fractalNoise" baseFrequency="0.55" numOctaves="1" seed="209" result="n3"/>
<feColorMatrix in="n3" type="matrix" values="0 1 0 0 0  0 1 0 0 0  0 1 0 0 0  0 0 0 0 1" result="s0"/>
<feComponentTransfer in="s0" result="s1"><feFuncR type="table" tableValues="0 0.15 0.45 0.8 1 1 1 1 1 1"/><feFuncG type="table" tableValues="0 0.15 0.45 0.8 1 1 1 1 1 1"/><feFuncB type="table" tableValues="0 0.15 0.45 0.8 1 1 1 1 1 1"/></feComponentTransfer>
<feComposite in="v2" in2="s1" operator="arithmetic" k2="1" k3="0.17" k4="-0.17" result="v"/>
<feComponentTransfer in="v">
<feFuncR type="table" tableValues="1.000 1.000 1.000 1.000 1.000 0.886 0.651 0.424 0.216 0.039"/>
<feFuncG type="table" tableValues="0.000 0.224 0.443 0.667 0.890 0.941 0.816 0.698 0.569 0.439"/>
<feFuncB type="table" tableValues="0.000 0.000 0.000 0.000 0.000 0.000 0.000 0.000 0.000 0.000"/>
<feFuncA type="linear" slope="0" intercept="1"/>
</feComponentTransfer>
<feGaussianBlur stdDeviation="0.5"/>
</filter>
<linearGradient id="g17" gradientUnits="userSpaceOnUse" x1="10.89" y1="40" x2="43.77" y2="36"><stop offset="0.000" stop-color="rgb(176,176,176)"/><stop offset="0.233" stop-color="rgb(181,181,181)"/><stop offset="0.433" stop-color="rgb(194,194,194)"/><stop offset="0.667" stop-color="rgb(213,213,213)"/><stop offset="1.000" stop-color="rgb(221,221,221)"/></linearGradient>
<filter id="f17" x="0" y="0" width="1" height="1" color-interpolation-filters="sRGB">
<feTurbulence type="fractalNoise" baseFrequency="0.5" numOctaves="2" seed="122" result="n1"/>
<feTurbulence type="fractalNoise" baseFrequency="0.12" numOctaves="2" seed="192" result="n2"/>
<feColorMatrix in="n1" type="matrix" values="1 0 0 0 0  1 0 0 0 0  1 0 0 0 0  0 0 0 0 1" result="a1"/>
<feColorMatrix in="n2" type="matrix" values="1 0 0 0 0  1 0 0 0 0  1 0 0 0 0  0 0 0 0 1" result="a2"/>
<feComposite in="SourceGraphic" in2="a1" operator="arithmetic" k2="1" k3="0.3" k4="-0.150" result="v1"/>
<feComposite in="v1" in2="a2" operator="arithmetic" k2="1" k3="0.36" k4="-0.180" result="v2"/>
<feTurbulence type="fractalNoise" baseFrequency="0.55" numOctaves="1" seed="222" result="n3"/>
<feColorMatrix in="n3" type="matrix" values="0 1 0 0 0  0 1 0 0 0  0 1 0 0 0  0 0 0 0 1" result="s0"/>
<feComponentTransfer in="s0" result="s1"><feFuncR type="table" tableValues="0 0.15 0.45 0.8 1 1 1 1 1 1"/><feFuncG type="table" tableValues="0 0.15 0.45 0.8 1 1 1 1 1 1"/><feFuncB type="table" tableValues="0 0.15 0.45 0.8 1 1 1 1 1 1"/></feComponentTransfer>
<feComposite in="v2" in2="s1" operator="arithmetic" k2="1" k3="0.17" k4="-0.17" result="v"/>
<feComponentTransfer in="v">
<feFuncR type="table" tableValues="1.000 1.000 1.000 1.000 1.000 0.886 0.651 0.424 0.216 0.039"/>
<feFuncG type="table" tableValues="0.000 0.224 0.443 0.667 0.890 0.941 0.816 0.698 0.569 0.439"/>
<feFuncB type="table" tableValues="0.000 0.000 0.000 0.000 0.000 0.000 0.000 0.000 0.000 0.000"/>
<feFuncA type="linear" slope="0" intercept="1"/>
</feComponentTransfer>
<feGaussianBlur stdDeviation="0.5"/>
</filter>
<linearGradient id="g18" gradientUnits="userSpaceOnUse" x1="10.89" y1="40" x2="43.77" y2="36"><stop offset="0.000" stop-color="rgb(186,186,186)"/><stop offset="0.233" stop-color="rgb(191,191,191)"/><stop offset="0.433" stop-color="rgb(204,204,204)"/><stop offset="0.667" stop-color="rgb(223,223,223)"/><stop offset="1.000" stop-color="rgb(231,231,231)"/></linearGradient>
<filter id="f18" x="0" y="0" width="1" height="1" color-interpolation-filters="sRGB">
<feTurbulence type="fractalNoise" baseFrequency="0.5" numOctaves="2" seed="129" result="n1"/>
<feTurbulence type="fractalNoise" baseFrequency="0.12" numOctaves="2" seed="203" result="n2"/>
<feColorMatrix in="n1" type="matrix" values="1 0 0 0 0  1 0 0 0 0  1 0 0 0 0  0 0 0 0 1" result="a1"/>
<feColorMatrix in="n2" type="matrix" values="1 0 0 0 0  1 0 0 0 0  1 0 0 0 0  0 0 0 0 1" result="a2"/>
<feComposite in="SourceGraphic" in2="a1" operator="arithmetic" k2="1" k3="0.3" k4="-0.150" result="v1"/>
<feComposite in="v1" in2="a2" operator="arithmetic" k2="1" k3="0.36" k4="-0.180" result="v2"/>
<feTurbulence type="fractalNoise" baseFrequency="0.55" numOctaves="1" seed="235" result="n3"/>
<feColorMatrix in="n3" type="matrix" values="0 1 0 0 0  0 1 0 0 0  0 1 0 0 0  0 0 0 0 1" result="s0"/>
<feComponentTransfer in="s0" result="s1"><feFuncR type="table" tableValues="0 0.15 0.45 0.8 1 1 1 1 1 1"/><feFuncG type="table" tableValues="0 0.15 0.45 0.8 1 1 1 1 1 1"/><feFuncB type="table" tableValues="0 0.15 0.45 0.8 1 1 1 1 1 1"/></feComponentTransfer>
<feComposite in="v2" in2="s1" operator="arithmetic" k2="1" k3="0.17" k4="-0.17" result="v"/>
<feComponentTransfer in="v">
<feFuncR type="table" tableValues="1.000 1.000 1.000 1.000 1.000 0.886 0.651 0.424 0.216 0.039"/>
<feFuncG type="table" tableValues="0.000 0.224 0.443 0.667 0.890 0.941 0.816 0.698 0.569 0.439"/>
<feFuncB type="table" tableValues="0.000 0.000 0.000 0.000 0.000 0.000 0.000 0.000 0.000 0.000"/>
<feFuncA type="linear" slope="0" intercept="1"/>
</feComponentTransfer>
<feGaussianBlur stdDeviation="0.5"/>
</filter>
<linearGradient id="g19" gradientUnits="userSpaceOnUse" x1="10.89" y1="40" x2="43.77" y2="36"><stop offset="0.000" stop-color="rgb(186,186,186)"/><stop offset="0.233" stop-color="rgb(191,191,191)"/><stop offset="0.433" stop-color="rgb(204,204,204)"/><stop offset="0.667" stop-color="rgb(223,223,223)"/><stop offset="1.000" stop-color="rgb(231,231,231)"/></linearGradient>
<filter id="f19" x="0" y="0" width="1" height="1" color-interpolation-filters="sRGB">
<feTurbulence type="fractalNoise" baseFrequency="0.5" numOctaves="2" seed="136" result="n1"/>
<feTurbulence type="fractalNoise" baseFrequency="0.12" numOctaves="2" seed="214" result="n2"/>
<feColorMatrix in="n1" type="matrix" values="1 0 0 0 0  1 0 0 0 0  1 0 0 0 0  0 0 0 0 1" result="a1"/>
<feColorMatrix in="n2" type="matrix" values="1 0 0 0 0  1 0 0 0 0  1 0 0 0 0  0 0 0 0 1" result="a2"/>
<feComposite in="SourceGraphic" in2="a1" operator="arithmetic" k2="1" k3="0.3" k4="-0.150" result="v1"/>
<feComposite in="v1" in2="a2" operator="arithmetic" k2="1" k3="0.36" k4="-0.180" result="v2"/>
<feTurbulence type="fractalNoise" baseFrequency="0.55" numOctaves="1" seed="248" result="n3"/>
<feColorMatrix in="n3" type="matrix" values="0 1 0 0 0  0 1 0 0 0  0 1 0 0 0  0 0 0 0 1" result="s0"/>
<feComponentTransfer in="s0" result="s1"><feFuncR type="table" tableValues="0 0.15 0.45 0.8 1 1 1 1 1 1"/><feFuncG type="table" tableValues="0 0.15 0.45 0.8 1 1 1 1 1 1"/><feFuncB type="table" tableValues="0 0.15 0.45 0.8 1 1 1 1 1 1"/></feComponentTransfer>
<feComposite in="v2" in2="s1" operator="arithmetic" k2="1" k3="0.17" k4="-0.17" result="v"/>
<feComponentTransfer in="v">
<feFuncR type="table" tableValues="1.000 1.000 1.000 1.000 1.000 0.886 0.651 0.424 0.216 0.039"/>
<feFuncG type="table" tableValues="0.000 0.224 0.443 0.667 0.890 0.941 0.816 0.698 0.569 0.439"/>
<feFuncB type="table" tableValues="0.000 0.000 0.000 0.000 0.000 0.000 0.000 0.000 0.000 0.000"/>
<feFuncA type="linear" slope="0" intercept="1"/>
</feComponentTransfer>
<feGaussianBlur stdDeviation="0.5"/>
</filter>
<linearGradient id="g20" gradientUnits="userSpaceOnUse" x1="10.89" y1="40" x2="43.77" y2="36"><stop offset="0.000" stop-color="rgb(176,176,176)"/><stop offset="0.233" stop-color="rgb(181,181,181)"/><stop offset="0.433" stop-color="rgb(194,194,194)"/><stop offset="0.667" stop-color="rgb(213,213,213)"/><stop offset="1.000" stop-color="rgb(221,221,221)"/></linearGradient>
<filter id="f20" x="0" y="0" width="1" height="1" color-interpolation-filters="sRGB">
<feTurbulence type="fractalNoise" baseFrequency="0.5" numOctaves="2" seed="143" result="n1"/>
<feTurbulence type="fractalNoise" baseFrequency="0.12" numOctaves="2" seed="225" result="n2"/>
<feColorMatrix in="n1" type="matrix" values="1 0 0 0 0  1 0 0 0 0  1 0 0 0 0  0 0 0 0 1" result="a1"/>
<feColorMatrix in="n2" type="matrix" values="1 0 0 0 0  1 0 0 0 0  1 0 0 0 0  0 0 0 0 1" result="a2"/>
<feComposite in="SourceGraphic" in2="a1" operator="arithmetic" k2="1" k3="0.3" k4="-0.150" result="v1"/>
<feComposite in="v1" in2="a2" operator="arithmetic" k2="1" k3="0.36" k4="-0.180" result="v2"/>
<feTurbulence type="fractalNoise" baseFrequency="0.55" numOctaves="1" seed="261" result="n3"/>
<feColorMatrix in="n3" type="matrix" values="0 1 0 0 0  0 1 0 0 0  0 1 0 0 0  0 0 0 0 1" result="s0"/>
<feComponentTransfer in="s0" result="s1"><feFuncR type="table" tableValues="0 0.15 0.45 0.8 1 1 1 1 1 1"/><feFuncG type="table" tableValues="0 0.15 0.45 0.8 1 1 1 1 1 1"/><feFuncB type="table" tableValues="0 0.15 0.45 0.8 1 1 1 1 1 1"/></feComponentTransfer>
<feComposite in="v2" in2="s1" operator="arithmetic" k2="1" k3="0.17" k4="-0.17" result="v"/>
<feComponentTransfer in="v">
<feFuncR type="table" tableValues="1.000 1.000 1.000 1.000 1.000 0.886 0.651 0.424 0.216 0.039"/>
<feFuncG type="table" tableValues="0.000 0.224 0.443 0.667 0.890 0.941 0.816 0.698 0.569 0.439"/>
<feFuncB type="table" tableValues="0.000 0.000 0.000 0.000 0.000 0.000 0.000 0.000 0.000 0.000"/>
<feFuncA type="linear" slope="0" intercept="1"/>
</feComponentTransfer>
<feGaussianBlur stdDeviation="0.5"/>
</filter>
<linearGradient id="g21" gradientUnits="userSpaceOnUse" x1="10.89" y1="40" x2="43.77" y2="36"><stop offset="0.000" stop-color="rgb(182,182,182)"/><stop offset="0.233" stop-color="rgb(187,187,187)"/><stop offset="0.433" stop-color="rgb(200,200,200)"/><stop offset="0.667" stop-color="rgb(219,219,219)"/><stop offset="1.000" stop-color="rgb(227,227,227)"/></linearGradient>
<filter id="f21" x="0" y="0" width="1" height="1" color-interpolation-filters="sRGB">
<feTurbulence type="fractalNoise" baseFrequency="0.5" numOctaves="2" seed="150" result="n1"/>
<feTurbulence type="fractalNoise" baseFrequency="0.12" numOctaves="2" seed="236" result="n2"/>
<feColorMatrix in="n1" type="matrix" values="1 0 0 0 0  1 0 0 0 0  1 0 0 0 0  0 0 0 0 1" result="a1"/>
<feColorMatrix in="n2" type="matrix" values="1 0 0 0 0  1 0 0 0 0  1 0 0 0 0  0 0 0 0 1" result="a2"/>
<feComposite in="SourceGraphic" in2="a1" operator="arithmetic" k2="1" k3="0.3" k4="-0.150" result="v1"/>
<feComposite in="v1" in2="a2" operator="arithmetic" k2="1" k3="0.36" k4="-0.180" result="v2"/>
<feTurbulence type="fractalNoise" baseFrequency="0.55" numOctaves="1" seed="274" result="n3"/>
<feColorMatrix in="n3" type="matrix" values="0 1 0 0 0  0 1 0 0 0  0 1 0 0 0  0 0 0 0 1" result="s0"/>
<feComponentTransfer in="s0" result="s1"><feFuncR type="table" tableValues="0 0.15 0.45 0.8 1 1 1 1 1 1"/><feFuncG type="table" tableValues="0 0.15 0.45 0.8 1 1 1 1 1 1"/><feFuncB type="table" tableValues="0 0.15 0.45 0.8 1 1 1 1 1 1"/></feComponentTransfer>
<feComposite in="v2" in2="s1" operator="arithmetic" k2="1" k3="0.17" k4="-0.17" result="v"/>
<feComponentTransfer in="v">
<feFuncR type="table" tableValues="1.000 1.000 1.000 1.000 1.000 0.886 0.651 0.424 0.216 0.039"/>
<feFuncG type="table" tableValues="0.000 0.224 0.443 0.667 0.890 0.941 0.816 0.698 0.569 0.439"/>
<feFuncB type="table" tableValues="0.000 0.000 0.000 0.000 0.000 0.000 0.000 0.000 0.000 0.000"/>
<feFuncA type="linear" slope="0" intercept="1"/>
</feComponentTransfer>
<feGaussianBlur stdDeviation="0.5"/>
</filter>
<linearGradient id="g22" gradientUnits="userSpaceOnUse" x1="10.89" y1="40" x2="43.77" y2="36"><stop offset="0.000" stop-color="rgb(177,177,177)"/><stop offset="0.233" stop-color="rgb(182,182,182)"/><stop offset="0.433" stop-color="rgb(195,195,195)"/><stop offset="0.667" stop-color="rgb(214,214,214)"/><stop offset="1.000" stop-color="rgb(222,222,222)"/></linearGradient>
<filter id="f22" x="0" y="0" width="1" height="1" color-interpolation-filters="sRGB">
<feTurbulence type="fractalNoise" baseFrequency="0.5" numOctaves="2" seed="157" result="n1"/>
<feTurbulence type="fractalNoise" baseFrequency="0.12" numOctaves="2" seed="247" result="n2"/>
<feColorMatrix in="n1" type="matrix" values="1 0 0 0 0  1 0 0 0 0  1 0 0 0 0  0 0 0 0 1" result="a1"/>
<feColorMatrix in="n2" type="matrix" values="1 0 0 0 0  1 0 0 0 0  1 0 0 0 0  0 0 0 0 1" result="a2"/>
<feComposite in="SourceGraphic" in2="a1" operator="arithmetic" k2="1" k3="0.3" k4="-0.150" result="v1"/>
<feComposite in="v1" in2="a2" operator="arithmetic" k2="1" k3="0.36" k4="-0.180" result="v2"/>
<feTurbulence type="fractalNoise" baseFrequency="0.55" numOctaves="1" seed="287" result="n3"/>
<feColorMatrix in="n3" type="matrix" values="0 1 0 0 0  0 1 0 0 0  0 1 0 0 0  0 0 0 0 1" result="s0"/>
<feComponentTransfer in="s0" result="s1"><feFuncR type="table" tableValues="0 0.15 0.45 0.8 1 1 1 1 1 1"/><feFuncG type="table" tableValues="0 0.15 0.45 0.8 1 1 1 1 1 1"/><feFuncB type="table" tableValues="0 0.15 0.45 0.8 1 1 1 1 1 1"/></feComponentTransfer>
<feComposite in="v2" in2="s1" operator="arithmetic" k2="1" k3="0.17" k4="-0.17" result="v"/>
<feComponentTransfer in="v">
<feFuncR type="table" tableValues="1.000 1.000 1.000 1.000 1.000 0.886 0.651 0.424 0.216 0.039"/>
<feFuncG type="table" tableValues="0.000 0.224 0.443 0.667 0.890 0.941 0.816 0.698 0.569 0.439"/>
<feFuncB type="table" tableValues="0.000 0.000 0.000 0.000 0.000 0.000 0.000 0.000 0.000 0.000"/>
<feFuncA type="linear" slope="0" intercept="1"/>
</feComponentTransfer>
<feGaussianBlur stdDeviation="0.5"/>
</filter>
<linearGradient id="g23" gradientUnits="userSpaceOnUse" x1="10.89" y1="40" x2="43.77" y2="36"><stop offset="0.000" stop-color="rgb(187,187,187)"/><stop offset="0.233" stop-color="rgb(193,193,193)"/><stop offset="0.433" stop-color="rgb(205,205,205)"/><stop offset="0.667" stop-color="rgb(224,224,224)"/><stop offset="1.000" stop-color="rgb(232,232,232)"/></linearGradient>
<filter id="f23" x="0" y="0" width="1" height="1" color-interpolation-filters="sRGB">
<feTurbulence type="fractalNoise" baseFrequency="0.5" numOctaves="2" seed="164" result="n1"/>
<feTurbulence type="fractalNoise" baseFrequency="0.12" numOctaves="2" seed="258" result="n2"/>
<feColorMatrix in="n1" type="matrix" values="1 0 0 0 0  1 0 0 0 0  1 0 0 0 0  0 0 0 0 1" result="a1"/>
<feColorMatrix in="n2" type="matrix" values="1 0 0 0 0  1 0 0 0 0  1 0 0 0 0  0 0 0 0 1" result="a2"/>
<feComposite in="SourceGraphic" in2="a1" operator="arithmetic" k2="1" k3="0.3" k4="-0.150" result="v1"/>
<feComposite in="v1" in2="a2" operator="arithmetic" k2="1" k3="0.36" k4="-0.180" result="v2"/>
<feTurbulence type="fractalNoise" baseFrequency="0.55" numOctaves="1" seed="300" result="n3"/>
<feColorMatrix in="n3" type="matrix" values="0 1 0 0 0  0 1 0 0 0  0 1 0 0 0  0 0 0 0 1" result="s0"/>
<feComponentTransfer in="s0" result="s1"><feFuncR type="table" tableValues="0 0.15 0.45 0.8 1 1 1 1 1 1"/><feFuncG type="table" tableValues="0 0.15 0.45 0.8 1 1 1 1 1 1"/><feFuncB type="table" tableValues="0 0.15 0.45 0.8 1 1 1 1 1 1"/></feComponentTransfer>
<feComposite in="v2" in2="s1" operator="arithmetic" k2="1" k3="0.17" k4="-0.17" result="v"/>
<feComponentTransfer in="v">
<feFuncR type="table" tableValues="1.000 1.000 1.000 1.000 1.000 0.886 0.651 0.424 0.216 0.039"/>
<feFuncG type="table" tableValues="0.000 0.224 0.443 0.667 0.890 0.941 0.816 0.698 0.569 0.439"/>
<feFuncB type="table" tableValues="0.000 0.000 0.000 0.000 0.000 0.000 0.000 0.000 0.000 0.000"/>
<feFuncA type="linear" slope="0" intercept="1"/>
</feComponentTransfer>
<feGaussianBlur stdDeviation="0.5"/>
</filter>
<linearGradient id="g24" gradientUnits="userSpaceOnUse" x1="10.89" y1="40" x2="43.77" y2="36"><stop offset="0.000" stop-color="rgb(175,175,175)"/><stop offset="0.233" stop-color="rgb(180,180,180)"/><stop offset="0.433" stop-color="rgb(193,193,193)"/><stop offset="0.667" stop-color="rgb(212,212,212)"/><stop offset="1.000" stop-color="rgb(219,219,219)"/></linearGradient>
<filter id="f24" x="0" y="0" width="1" height="1" color-interpolation-filters="sRGB">
<feTurbulence type="fractalNoise" baseFrequency="0.5" numOctaves="2" seed="171" result="n1"/>
<feTurbulence type="fractalNoise" baseFrequency="0.12" numOctaves="2" seed="269" result="n2"/>
<feColorMatrix in="n1" type="matrix" values="1 0 0 0 0  1 0 0 0 0  1 0 0 0 0  0 0 0 0 1" result="a1"/>
<feColorMatrix in="n2" type="matrix" values="1 0 0 0 0  1 0 0 0 0  1 0 0 0 0  0 0 0 0 1" result="a2"/>
<feComposite in="SourceGraphic" in2="a1" operator="arithmetic" k2="1" k3="0.3" k4="-0.150" result="v1"/>
<feComposite in="v1" in2="a2" operator="arithmetic" k2="1" k3="0.36" k4="-0.180" result="v2"/>
<feTurbulence type="fractalNoise" baseFrequency="0.55" numOctaves="1" seed="313" result="n3"/>
<feColorMatrix in="n3" type="matrix" values="0 1 0 0 0  0 1 0 0 0  0 1 0 0 0  0 0 0 0 1" result="s0"/>
<feComponentTransfer in="s0" result="s1"><feFuncR type="table" tableValues="0 0.15 0.45 0.8 1 1 1 1 1 1"/><feFuncG type="table" tableValues="0 0.15 0.45 0.8 1 1 1 1 1 1"/><feFuncB type="table" tableValues="0 0.15 0.45 0.8 1 1 1 1 1 1"/></feComponentTransfer>
<feComposite in="v2" in2="s1" operator="arithmetic" k2="1" k3="0.17" k4="-0.17" result="v"/>
<feComponentTransfer in="v">
<feFuncR type="table" tableValues="1.000 1.000 1.000 1.000 1.000 0.886 0.651 0.424 0.216 0.039"/>
<feFuncG type="table" tableValues="0.000 0.224 0.443 0.667 0.890 0.941 0.816 0.698 0.569 0.439"/>
<feFuncB type="table" tableValues="0.000 0.000 0.000 0.000 0.000 0.000 0.000 0.000 0.000 0.000"/>
<feFuncA type="linear" slope="0" intercept="1"/>
</feComponentTransfer>
<feGaussianBlur stdDeviation="0.5"/>
</filter>
<linearGradient id="g25" gradientUnits="userSpaceOnUse" x1="10.89" y1="40" x2="43.77" y2="36"><stop offset="0.000" stop-color="rgb(175,175,175)"/><stop offset="0.233" stop-color="rgb(180,180,180)"/><stop offset="0.433" stop-color="rgb(193,193,193)"/><stop offset="0.667" stop-color="rgb(212,212,212)"/><stop offset="1.000" stop-color="rgb(219,219,219)"/></linearGradient>
<filter id="f25" x="0" y="0" width="1" height="1" color-interpolation-filters="sRGB">
<feTurbulence type="fractalNoise" baseFrequency="0.5" numOctaves="2" seed="178" result="n1"/>
<feTurbulence type="fractalNoise" baseFrequency="0.12" numOctaves="2" seed="280" result="n2"/>
<feColorMatrix in="n1" type="matrix" values="1 0 0 0 0  1 0 0 0 0  1 0 0 0 0  0 0 0 0 1" result="a1"/>
<feColorMatrix in="n2" type="matrix" values="1 0 0 0 0  1 0 0 0 0  1 0 0 0 0  0 0 0 0 1" result="a2"/>
<feComposite in="SourceGraphic" in2="a1" operator="arithmetic" k2="1" k3="0.3" k4="-0.150" result="v1"/>
<feComposite in="v1" in2="a2" operator="arithmetic" k2="1" k3="0.36" k4="-0.180" result="v2"/>
<feTurbulence type="fractalNoise" baseFrequency="0.55" numOctaves="1" seed="326" result="n3"/>
<feColorMatrix in="n3" type="matrix" values="0 1 0 0 0  0 1 0 0 0  0 1 0 0 0  0 0 0 0 1" result="s0"/>
<feComponentTransfer in="s0" result="s1"><feFuncR type="table" tableValues="0 0.15 0.45 0.8 1 1 1 1 1 1"/><feFuncG type="table" tableValues="0 0.15 0.45 0.8 1 1 1 1 1 1"/><feFuncB type="table" tableValues="0 0.15 0.45 0.8 1 1 1 1 1 1"/></feComponentTransfer>
<feComposite in="v2" in2="s1" operator="arithmetic" k2="1" k3="0.17" k4="-0.17" result="v"/>
<feComponentTransfer in="v">
<feFuncR type="table" tableValues="1.000 1.000 1.000 1.000 1.000 0.886 0.651 0.424 0.216 0.039"/>
<feFuncG type="table" tableValues="0.000 0.224 0.443 0.667 0.890 0.941 0.816 0.698 0.569 0.439"/>
<feFuncB type="table" tableValues="0.000 0.000 0.000 0.000 0.000 0.000 0.000 0.000 0.000 0.000"/>
<feFuncA type="linear" slope="0" intercept="1"/>
</feComponentTransfer>
<feGaussianBlur stdDeviation="0.5"/>
</filter>
<linearGradient id="g26" gradientUnits="userSpaceOnUse" x1="10.89" y1="40" x2="43.77" y2="36"><stop offset="0.000" stop-color="rgb(187,187,187)"/><stop offset="0.233" stop-color="rgb(193,193,193)"/><stop offset="0.433" stop-color="rgb(205,205,205)"/><stop offset="0.667" stop-color="rgb(224,224,224)"/><stop offset="1.000" stop-color="rgb(232,232,232)"/></linearGradient>
<filter id="f26" x="0" y="0" width="1" height="1" color-interpolation-filters="sRGB">
<feTurbulence type="fractalNoise" baseFrequency="0.5" numOctaves="2" seed="185" result="n1"/>
<feTurbulence type="fractalNoise" baseFrequency="0.12" numOctaves="2" seed="291" result="n2"/>
<feColorMatrix in="n1" type="matrix" values="1 0 0 0 0  1 0 0 0 0  1 0 0 0 0  0 0 0 0 1" result="a1"/>
<feColorMatrix in="n2" type="matrix" values="1 0 0 0 0  1 0 0 0 0  1 0 0 0 0  0 0 0 0 1" result="a2"/>
<feComposite in="SourceGraphic" in2="a1" operator="arithmetic" k2="1" k3="0.3" k4="-0.150" result="v1"/>
<feComposite in="v1" in2="a2" operator="arithmetic" k2="1" k3="0.36" k4="-0.180" result="v2"/>
<feTurbulence type="fractalNoise" baseFrequency="0.55" numOctaves="1" seed="339" result="n3"/>
<feColorMatrix in="n3" type="matrix" values="0 1 0 0 0  0 1 0 0 0  0 1 0 0 0  0 0 0 0 1" result="s0"/>
<feComponentTransfer in="s0" result="s1"><feFuncR type="table" tableValues="0 0.15 0.45 0.8 1 1 1 1 1 1"/><feFuncG type="table" tableValues="0 0.15 0.45 0.8 1 1 1 1 1 1"/><feFuncB type="table" tableValues="0 0.15 0.45 0.8 1 1 1 1 1 1"/></feComponentTransfer>
<feComposite in="v2" in2="s1" operator="arithmetic" k2="1" k3="0.17" k4="-0.17" result="v"/>
<feComponentTransfer in="v">
<feFuncR type="table" tableValues="1.000 1.000 1.000 1.000 1.000 0.886 0.651 0.424 0.216 0.039"/>
<feFuncG type="table" tableValues="0.000 0.224 0.443 0.667 0.890 0.941 0.816 0.698 0.569 0.439"/>
<feFuncB type="table" tableValues="0.000 0.000 0.000 0.000 0.000 0.000 0.000 0.000 0.000 0.000"/>
<feFuncA type="linear" slope="0" intercept="1"/>
</feComponentTransfer>
<feGaussianBlur stdDeviation="0.5"/>
</filter>
<linearGradient id="g27" gradientUnits="userSpaceOnUse" x1="10.89" y1="40" x2="43.77" y2="36"><stop offset="0.000" stop-color="rgb(187,187,187)"/><stop offset="0.233" stop-color="rgb(193,193,193)"/><stop offset="0.433" stop-color="rgb(205,205,205)"/><stop offset="0.667" stop-color="rgb(224,224,224)"/><stop offset="1.000" stop-color="rgb(232,232,232)"/></linearGradient>
<filter id="f27" x="0" y="0" width="1" height="1" color-interpolation-filters="sRGB">
<feTurbulence type="fractalNoise" baseFrequency="0.5" numOctaves="2" seed="192" result="n1"/>
<feTurbulence type="fractalNoise" baseFrequency="0.12" numOctaves="2" seed="302" result="n2"/>
<feColorMatrix in="n1" type="matrix" values="1 0 0 0 0  1 0 0 0 0  1 0 0 0 0  0 0 0 0 1" result="a1"/>
<feColorMatrix in="n2" type="matrix" values="1 0 0 0 0  1 0 0 0 0  1 0 0 0 0  0 0 0 0 1" result="a2"/>
<feComposite in="SourceGraphic" in2="a1" operator="arithmetic" k2="1" k3="0.3" k4="-0.150" result="v1"/>
<feComposite in="v1" in2="a2" operator="arithmetic" k2="1" k3="0.36" k4="-0.180" result="v2"/>
<feTurbulence type="fractalNoise" baseFrequency="0.55" numOctaves="1" seed="352" result="n3"/>
<feColorMatrix in="n3" type="matrix" values="0 1 0 0 0  0 1 0 0 0  0 1 0 0 0  0 0 0 0 1" result="s0"/>
<feComponentTransfer in="s0" result="s1"><feFuncR type="table" tableValues="0 0.15 0.45 0.8 1 1 1 1 1 1"/><feFuncG type="table" tableValues="0 0.15 0.45 0.8 1 1 1 1 1 1"/><feFuncB type="table" tableValues="0 0.15 0.45 0.8 1 1 1 1 1 1"/></feComponentTransfer>
<feComposite in="v2" in2="s1" operator="arithmetic" k2="1" k3="0.17" k4="-0.17" result="v"/>
<feComponentTransfer in="v">
<feFuncR type="table" tableValues="1.000 1.000 1.000 1.000 1.000 0.886 0.651 0.424 0.216 0.039"/>
<feFuncG type="table" tableValues="0.000 0.224 0.443 0.667 0.890 0.941 0.816 0.698 0.569 0.439"/>
<feFuncB type="table" tableValues="0.000 0.000 0.000 0.000 0.000 0.000 0.000 0.000 0.000 0.000"/>
<feFuncA type="linear" slope="0" intercept="1"/>
</feComponentTransfer>
<feGaussianBlur stdDeviation="0.5"/>
</filter>
<linearGradient id="g28" gradientUnits="userSpaceOnUse" x1="10.89" y1="40" x2="43.77" y2="36"><stop offset="0.000" stop-color="rgb(182,182,182)"/><stop offset="0.233" stop-color="rgb(187,187,187)"/><stop offset="0.433" stop-color="rgb(200,200,200)"/><stop offset="0.667" stop-color="rgb(219,219,219)"/><stop offset="1.000" stop-color="rgb(227,227,227)"/></linearGradient>
<filter id="f28" x="0" y="0" width="1" height="1" color-interpolation-filters="sRGB">
<feTurbulence type="fractalNoise" baseFrequency="0.5" numOctaves="2" seed="199" result="n1"/>
<feTurbulence type="fractalNoise" baseFrequency="0.12" numOctaves="2" seed="313" result="n2"/>
<feColorMatrix in="n1" type="matrix" values="1 0 0 0 0  1 0 0 0 0  1 0 0 0 0  0 0 0 0 1" result="a1"/>
<feColorMatrix in="n2" type="matrix" values="1 0 0 0 0  1 0 0 0 0  1 0 0 0 0  0 0 0 0 1" result="a2"/>
<feComposite in="SourceGraphic" in2="a1" operator="arithmetic" k2="1" k3="0.3" k4="-0.150" result="v1"/>
<feComposite in="v1" in2="a2" operator="arithmetic" k2="1" k3="0.36" k4="-0.180" result="v2"/>
<feTurbulence type="fractalNoise" baseFrequency="0.55" numOctaves="1" seed="365" result="n3"/>
<feColorMatrix in="n3" type="matrix" values="0 1 0 0 0  0 1 0 0 0  0 1 0 0 0  0 0 0 0 1" result="s0"/>
<feComponentTransfer in="s0" result="s1"><feFuncR type="table" tableValues="0 0.15 0.45 0.8 1 1 1 1 1 1"/><feFuncG type="table" tableValues="0 0.15 0.45 0.8 1 1 1 1 1 1"/><feFuncB type="table" tableValues="0 0.15 0.45 0.8 1 1 1 1 1 1"/></feComponentTransfer>
<feComposite in="v2" in2="s1" operator="arithmetic" k2="1" k3="0.17" k4="-0.17" result="v"/>
<feComponentTransfer in="v">
<feFuncR type="table" tableValues="1.000 1.000 1.000 1.000 1.000 0.886 0.651 0.424 0.216 0.039"/>
<feFuncG type="table" tableValues="0.000 0.224 0.443 0.667 0.890 0.941 0.816 0.698 0.569 0.439"/>
<feFuncB type="table" tableValues="0.000 0.000 0.000 0.000 0.000 0.000 0.000 0.000 0.000 0.000"/>
<feFuncA type="linear" slope="0" intercept="1"/>
</feComponentTransfer>
<feGaussianBlur stdDeviation="0.5"/>
</filter>
<linearGradient id="g29" gradientUnits="userSpaceOnUse" x1="10.89" y1="40" x2="43.77" y2="36"><stop offset="0.000" stop-color="rgb(182,182,182)"/><stop offset="0.233" stop-color="rgb(187,187,187)"/><stop offset="0.433" stop-color="rgb(200,200,200)"/><stop offset="0.667" stop-color="rgb(219,219,219)"/><stop offset="1.000" stop-color="rgb(227,227,227)"/></linearGradient>
<filter id="f29" x="0" y="0" width="1" height="1" color-interpolation-filters="sRGB">
<feTurbulence type="fractalNoise" baseFrequency="0.5" numOctaves="2" seed="206" result="n1"/>
<feTurbulence type="fractalNoise" baseFrequency="0.12" numOctaves="2" seed="324" result="n2"/>
<feColorMatrix in="n1" type="matrix" values="1 0 0 0 0  1 0 0 0 0  1 0 0 0 0  0 0 0 0 1" result="a1"/>
<feColorMatrix in="n2" type="matrix" values="1 0 0 0 0  1 0 0 0 0  1 0 0 0 0  0 0 0 0 1" result="a2"/>
<feComposite in="SourceGraphic" in2="a1" operator="arithmetic" k2="1" k3="0.3" k4="-0.150" result="v1"/>
<feComposite in="v1" in2="a2" operator="arithmetic" k2="1" k3="0.36" k4="-0.180" result="v2"/>
<feTurbulence type="fractalNoise" baseFrequency="0.55" numOctaves="1" seed="378" result="n3"/>
<feColorMatrix in="n3" type="matrix" values="0 1 0 0 0  0 1 0 0 0  0 1 0 0 0  0 0 0 0 1" result="s0"/>
<feComponentTransfer in="s0" result="s1"><feFuncR type="table" tableValues="0 0.15 0.45 0.8 1 1 1 1 1 1"/><feFuncG type="table" tableValues="0 0.15 0.45 0.8 1 1 1 1 1 1"/><feFuncB type="table" tableValues="0 0.15 0.45 0.8 1 1 1 1 1 1"/></feComponentTransfer>
<feComposite in="v2" in2="s1" operator="arithmetic" k2="1" k3="0.17" k4="-0.17" result="v"/>
<feComponentTransfer in="v">
<feFuncR type="table" tableValues="1.000 1.000 1.000 1.000 1.000 0.886 0.651 0.424 0.216 0.039"/>
<feFuncG type="table" tableValues="0.000 0.224 0.443 0.667 0.890 0.941 0.816 0.698 0.569 0.439"/>
<feFuncB type="table" tableValues="0.000 0.000 0.000 0.000 0.000 0.000 0.000 0.000 0.000 0.000"/>
<feFuncA type="linear" slope="0" intercept="1"/>
</feComponentTransfer>
<feGaussianBlur stdDeviation="0.5"/>
</filter>
<linearGradient id="g30" gradientUnits="userSpaceOnUse" x1="10.89" y1="40" x2="43.77" y2="36"><stop offset="0.000" stop-color="rgb(182,182,182)"/><stop offset="0.233" stop-color="rgb(187,187,187)"/><stop offset="0.433" stop-color="rgb(200,200,200)"/><stop offset="0.667" stop-color="rgb(219,219,219)"/><stop offset="1.000" stop-color="rgb(227,227,227)"/></linearGradient>
<filter id="f30" x="0" y="0" width="1" height="1" color-interpolation-filters="sRGB">
<feTurbulence type="fractalNoise" baseFrequency="0.5" numOctaves="2" seed="213" result="n1"/>
<feTurbulence type="fractalNoise" baseFrequency="0.12" numOctaves="2" seed="335" result="n2"/>
<feColorMatrix in="n1" type="matrix" values="1 0 0 0 0  1 0 0 0 0  1 0 0 0 0  0 0 0 0 1" result="a1"/>
<feColorMatrix in="n2" type="matrix" values="1 0 0 0 0  1 0 0 0 0  1 0 0 0 0  0 0 0 0 1" result="a2"/>
<feComposite in="SourceGraphic" in2="a1" operator="arithmetic" k2="1" k3="0.3" k4="-0.150" result="v1"/>
<feComposite in="v1" in2="a2" operator="arithmetic" k2="1" k3="0.36" k4="-0.180" result="v2"/>
<feTurbulence type="fractalNoise" baseFrequency="0.55" numOctaves="1" seed="391" result="n3"/>
<feColorMatrix in="n3" type="matrix" values="0 1 0 0 0  0 1 0 0 0  0 1 0 0 0  0 0 0 0 1" result="s0"/>
<feComponentTransfer in="s0" result="s1"><feFuncR type="table" tableValues="0 0.15 0.45 0.8 1 1 1 1 1 1"/><feFuncG type="table" tableValues="0 0.15 0.45 0.8 1 1 1 1 1 1"/><feFuncB type="table" tableValues="0 0.15 0.45 0.8 1 1 1 1 1 1"/></feComponentTransfer>
<feComposite in="v2" in2="s1" operator="arithmetic" k2="1" k3="0.17" k4="-0.17" result="v"/>
<feComponentTransfer in="v">
<feFuncR type="table" tableValues="1.000 1.000 1.000 1.000 1.000 0.886 0.651 0.424 0.216 0.039"/>
<feFuncG type="table" tableValues="0.000 0.224 0.443 0.667 0.890 0.941 0.816 0.698 0.569 0.439"/>
<feFuncB type="table" tableValues="0.000 0.000 0.000 0.000 0.000 0.000 0.000 0.000 0.000 0.000"/>
<feFuncA type="linear" slope="0" intercept="1"/>
</feComponentTransfer>
<feGaussianBlur stdDeviation="0.5"/>
</filter>
<linearGradient id="g31" gradientUnits="userSpaceOnUse" x1="10.89" y1="40" x2="43.77" y2="36"><stop offset="0.000" stop-color="rgb(190,190,190)"/><stop offset="0.233" stop-color="rgb(195,195,195)"/><stop offset="0.433" stop-color="rgb(208,208,208)"/><stop offset="0.667" stop-color="rgb(227,227,227)"/><stop offset="1.000" stop-color="rgb(235,235,235)"/></linearGradient>
<filter id="f31" x="0" y="0" width="1" height="1" color-interpolation-filters="sRGB">
<feTurbulence type="fractalNoise" baseFrequency="0.5" numOctaves="2" seed="220" result="n1"/>
<feTurbulence type="fractalNoise" baseFrequency="0.12" numOctaves="2" seed="346" result="n2"/>
<feColorMatrix in="n1" type="matrix" values="1 0 0 0 0  1 0 0 0 0  1 0 0 0 0  0 0 0 0 1" result="a1"/>
<feColorMatrix in="n2" type="matrix" values="1 0 0 0 0  1 0 0 0 0  1 0 0 0 0  0 0 0 0 1" result="a2"/>
<feComposite in="SourceGraphic" in2="a1" operator="arithmetic" k2="1" k3="0.3" k4="-0.150" result="v1"/>
<feComposite in="v1" in2="a2" operator="arithmetic" k2="1" k3="0.36" k4="-0.180" result="v2"/>
<feTurbulence type="fractalNoise" baseFrequency="0.55" numOctaves="1" seed="404" result="n3"/>
<feColorMatrix in="n3" type="matrix" values="0 1 0 0 0  0 1 0 0 0  0 1 0 0 0  0 0 0 0 1" result="s0"/>
<feComponentTransfer in="s0" result="s1"><feFuncR type="table" tableValues="0 0.15 0.45 0.8 1 1 1 1 1 1"/><feFuncG type="table" tableValues="0 0.15 0.45 0.8 1 1 1 1 1 1"/><feFuncB type="table" tableValues="0 0.15 0.45 0.8 1 1 1 1 1 1"/></feComponentTransfer>
<feComposite in="v2" in2="s1" operator="arithmetic" k2="1" k3="0.17" k4="-0.17" result="v"/>
<feComponentTransfer in="v">
<feFuncR type="table" tableValues="1.000 1.000 1.000 1.000 1.000 0.886 0.651 0.424 0.216 0.039"/>
<feFuncG type="table" tableValues="0.000 0.224 0.443 0.667 0.890 0.941 0.816 0.698 0.569 0.439"/>
<feFuncB type="table" tableValues="0.000 0.000 0.000 0.000 0.000 0.000 0.000 0.000 0.000 0.000"/>
<feFuncA type="linear" slope="0" intercept="1"/>
</feComponentTransfer>
<feGaussianBlur stdDeviation="0.5"/>
</filter>
<radialGradient id="rw" gradientUnits="userSpaceOnUse" cx="18.0" cy="18.9" r="9"><stop offset="0" stop-color="#000" stop-opacity="0.2"/><stop offset="0.45" stop-color="#000" stop-opacity="0.160"/><stop offset="1" stop-color="#000" stop-opacity="0"/></radialGradient>
<radialGradient id="rcn" gradientUnits="userSpaceOnUse" cx="14.2" cy="29.6" r="6"><stop offset="0" stop-color="#000" stop-opacity="0.09"/><stop offset="0.45" stop-color="#000" stop-opacity="0.072"/><stop offset="1" stop-color="#000" stop-opacity="0"/></radialGradient>
<radialGradient id="rjb" gradientUnits="userSpaceOnUse" cx="18.0" cy="40.3" r="6"><stop offset="0" stop-color="#000" stop-opacity="0.09"/><stop offset="0.45" stop-color="#000" stop-opacity="0.072"/><stop offset="1" stop-color="#000" stop-opacity="0"/></radialGradient>
<radialGradient id="rdg" gradientUnits="userSpaceOnUse" cx="37.7" cy="43.6" r="10"><stop offset="0" stop-color="#000" stop-opacity="0.1"/><stop offset="0.45" stop-color="#000" stop-opacity="0.080"/><stop offset="1" stop-color="#000" stop-opacity="0"/></radialGradient>
<radialGradient id="rjn" gradientUnits="userSpaceOnUse" cx="18.6" cy="53.6" r="7"><stop offset="0" stop-color="#fff" stop-opacity="0.05"/><stop offset="0.45" stop-color="#fff" stop-opacity="0.040"/><stop offset="1" stop-color="#fff" stop-opacity="0"/></radialGradient>
<radialGradient id="rgw" gradientUnits="userSpaceOnUse" cx="36.1" cy="16.2" r="9"><stop offset="0" stop-color="#fff" stop-opacity="0.1"/><stop offset="0.45" stop-color="#fff" stop-opacity="0.080"/><stop offset="1" stop-color="#fff" stop-opacity="0"/></radialGradient>
<radialGradient id="r31" gradientUnits="userSpaceOnUse" cx="19.1" cy="24.2" r="14" gradientTransform="translate(19.1 24.2) rotate(100) scale(1 0.5) translate(-19.1 -24.2)"><stop offset="0" stop-color="#000" stop-opacity="0.32"/><stop offset="0.6" stop-color="#000" stop-opacity="0.16"/><stop offset="1" stop-color="#000" stop-opacity="0"/></radialGradient>
</defs>
<rect width="550" height="437" fill="#fff"/>
<g transform="translate(13.60 15.10)"><g filter="url(#eb)"><g clip-path="url(#kc)"><g filter="url(#f0)"><rect x="0" y="0" width="55.3" height="82.3" fill="url(#g0)"/><rect x="0" y="0" width="55.3" height="82.3" fill="url(#rw)"/><rect x="0" y="0" width="55.3" height="82.3" fill="url(#rcn)"/><rect x="0" y="0" width="55.3" height="82.3" fill="url(#rjb)"/><rect x="0" y="0" width="55.3" height="82.3" fill="url(#rdg)"/><rect x="0" y="0" width="55.3" height="82.3" fill="url(#rjn)"/><rect x="0" y="0" width="55.3" height="82.3" fill="url(#rgw)"/></g></g></g><use href="#is" fill="rgb(70,140,0)"/><use href="#jj"/><use href="#nk" class="nk"/><rect class="fr" x="0" y="0" width="55.3" height="82.3"/><line class="tk" x1="7.95" y1="82.3" x2="7.95" y2="84.3"/><text class="a" x="7.95" y="90.3">126°E</text><line class="tk" x1="29.87" y1="82.3" x2="29.87" y2="84.3"/><text class="a" x="29.87" y="90.3">128°E</text><line class="tk" x1="51.79" y1="82.3" x2="51.79" y2="84.3"/><text class="a" x="51.79" y="90.3">130°E</text><line class="tk" x1="-2" y1="10.50" x2="0" y2="10.50"/><text class="a" transform="translate(-4.5 10.50) rotate(-90)">38°N</text><line class="tk" x1="-2" y1="37.86" x2="0" y2="37.86"/><text class="a" transform="translate(-4.5 37.86) rotate(-90)">36°N</text><line class="tk" x1="-2" y1="65.22" x2="0" y2="65.22"/><text class="a" transform="translate(-4.5 65.22) rotate(-90)">34°N</text><text class="t" x="27.65" y="-0.5">19 Jul 2020</text></g>
<g transform="translate(80.92 15.10)"><g filter="url(#eb)"><g clip-path="url(#kc)"><g filter="url(#f1)"><rect x="0" y="0" width="55.3" height="82.3" fill="url(#g1)"/><rect x="0" y="0" width="55.3" height="82.3" fill="url(#rw)"/><rect x="0" y="0" width="55.3" height="82.3" fill="url(#rcn)"/><rect x="0" y="0" width="55.3" height="82.3" fill="url(#rjb)"/><rect x="0" y="0" width="55.3" height="82.3" fill="url(#rdg)"/><rect x="0" y="0" width="55.3" height="82.3" fill="url(#rjn)"/><rect x="0" y="0" width="55.3" height="82.3" fill="url(#rgw)"/></g></g></g><use href="#is" fill="rgb(70,140,0)"/><use href="#jj"/><use href="#nk" class="nk"/><rect class="fr" x="0" y="0" width="55.3" height="82.3"/><line class="tk" x1="7.95" y1="82.3" x2="7.95" y2="84.3"/><text class="a" x="7.95" y="90.3">126°E</text><line class="tk" x1="29.87" y1="82.3" x2="29.87" y2="84.3"/><text class="a" x="29.87" y="90.3">128°E</text><line class="tk" x1="51.79" y1="82.3" x2="51.79" y2="84.3"/><text class="a" x="51.79" y="90.3">130°E</text><line class="tk" x1="-2" y1="10.50" x2="0" y2="10.50"/><text class="a" transform="translate(-4.5 10.50) rotate(-90)">38°N</text><line class="tk" x1="-2" y1="37.86" x2="0" y2="37.86"/><text class="a" transform="translate(-4.5 37.86) rotate(-90)">36°N</text><line class="tk" x1="-2" y1="65.22" x2="0" y2="65.22"/><text class="a" transform="translate(-4.5 65.22) rotate(-90)">34°N</text><text class="t" x="27.65" y="-0.5">20 Jul 2020</text></g>
<g transform="translate(148.24 15.10)"><g filter="url(#eb)"><g clip-path="url(#kc)"><g filter="url(#f2)"><rect x="0" y="0" width="55.3" height="82.3" fill="url(#g2)"/><rect x="0" y="0" width="55.3" height="82.3" fill="url(#rw)"/><rect x="0" y="0" width="55.3" height="82.3" fill="url(#rcn)"/><rect x="0" y="0" width="55.3" height="82.3" fill="url(#rjb)"/><rect x="0" y="0" width="55.3" height="82.3" fill="url(#rdg)"/><rect x="0" y="0" width="55.3" height="82.3" fill="url(#rjn)"/><rect x="0" y="0" width="55.3" height="82.3" fill="url(#rgw)"/></g></g></g><use href="#is" fill="rgb(70,140,0)"/><use href="#jj"/><use href="#nk" class="nk"/><rect class="fr" x="0" y="0" width="55.3" height="82.3"/><line class="tk" x1="7.95" y1="82.3" x2="7.95" y2="84.3"/><text class="a" x="7.95" y="90.3">126°E</text><line class="tk" x1="29.87" y1="82.3" x2="29.87" y2="84.3"/><text class="a" x="29.87" y="90.3">128°E</text><line class="tk" x1="51.79" y1="82.3" x2="51.79" y2="84.3"/><text class="a" x="51.79" y="90.3">130°E</text><line class="tk" x1="-2" y1="10.50" x2="0" y2="10.50"/><text class="a" transform="translate(-4.5 10.50) rotate(-90)">38°N</text><line class="tk" x1="-2" y1="37.86" x2="0" y2="37.86"/><text class="a" transform="translate(-4.5 37.86) rotate(-90)">36°N</text><line class="tk" x1="-2" y1="65.22" x2="0" y2="65.22"/><text class="a" transform="translate(-4.5 65.22) rotate(-90)">34°N</text><text class="t" x="27.65" y="-0.5">21 Jul 2020</text></g>
<g transform="translate(215.56 15.10)"><g filter="url(#eb)"><g clip-path="url(#kc)"><g filter="url(#f3)"><rect x="0" y="0" width="55.3" height="82.3" fill="url(#g3)"/><rect x="0" y="0" width="55.3" height="82.3" fill="url(#rw)"/><rect x="0" y="0" width="55.3" height="82.3" fill="url(#rcn)"/><rect x="0" y="0" width="55.3" height="82.3" fill="url(#rjb)"/><rect x="0" y="0" width="55.3" height="82.3" fill="url(#rdg)"/><rect x="0" y="0" width="55.3" height="82.3" fill="url(#rjn)"/><rect x="0" y="0" width="55.3" height="82.3" fill="url(#rgw)"/></g></g></g><use href="#is" fill="rgb(70,140,0)"/><use href="#jj"/><use href="#nk" class="nk"/><rect class="fr" x="0" y="0" width="55.3" height="82.3"/><line class="tk" x1="7.95" y1="82.3" x2="7.95" y2="84.3"/><text class="a" x="7.95" y="90.3">126°E</text><line class="tk" x1="29.87" y1="82.3" x2="29.87" y2="84.3"/><text class="a" x="29.87" y="90.3">128°E</text><line class="tk" x1="51.79" y1="82.3" x2="51.79" y2="84.3"/><text class="a" x="51.79" y="90.3">130°E</text><line class="tk" x1="-2" y1="10.50" x2="0" y2="10.50"/><text class="a" transform="translate(-4.5 10.50) rotate(-90)">38°N</text><line class="tk" x1="-2" y1="37.86" x2="0" y2="37.86"/><text class="a" transform="translate(-4.5 37.86) rotate(-90)">36°N</text><line class="tk" x1="-2" y1="65.22" x2="0" y2="65.22"/><text class="a" transform="translate(-4.5 65.22) rotate(-90)">34°N</text><text class="t" x="27.65" y="-0.5">22 Jul 2020</text></g>
<g transform="translate(282.88 15.10)"><g filter="url(#eb)"><g clip-path="url(#kc)"><g filter="url(#f4)"><rect x="0" y="0" width="55.3" height="82.3" fill="url(#g4)"/><rect x="0" y="0" width="55.3" height="82.3" fill="url(#rw)"/><rect x="0" y="0" width="55.3" height="82.3" fill="url(#rcn)"/><rect x="0" y="0" width="55.3" height="82.3" fill="url(#rjb)"/><rect x="0" y="0" width="55.3" height="82.3" fill="url(#rdg)"/><rect x="0" y="0" width="55.3" height="82.3" fill="url(#rjn)"/><rect x="0" y="0" width="55.3" height="82.3" fill="url(#rgw)"/></g></g></g><use href="#is" fill="rgb(70,140,0)"/><use href="#jj"/><use href="#nk" class="nk"/><rect class="fr" x="0" y="0" width="55.3" height="82.3"/><line class="tk" x1="7.95" y1="82.3" x2="7.95" y2="84.3"/><text class="a" x="7.95" y="90.3">126°E</text><line class="tk" x1="29.87" y1="82.3" x2="29.87" y2="84.3"/><text class="a" x="29.87" y="90.3">128°E</text><line class="tk" x1="51.79" y1="82.3" x2="51.79" y2="84.3"/><text class="a" x="51.79" y="90.3">130°E</text><line class="tk" x1="-2" y1="10.50" x2="0" y2="10.50"/><text class="a" transform="translate(-4.5 10.50) rotate(-90)">38°N</text><line class="tk" x1="-2" y1="37.86" x2="0" y2="37.86"/><text class="a" transform="translate(-4.5 37.86) rotate(-90)">36°N</text><line class="tk" x1="-2" y1="65.22" x2="0" y2="65.22"/><text class="a" transform="translate(-4.5 65.22) rotate(-90)">34°N</text><text class="t" x="27.65" y="-0.5">23 Jul 2020</text></g>
<g transform="translate(350.20 15.10)"><g filter="url(#eb)"><g clip-path="url(#kc)"><g filter="url(#f5)"><rect x="0" y="0" width="55.3" height="82.3" fill="url(#g5)"/><rect x="0" y="0" width="55.3" height="82.3" fill="url(#rw)"/><rect x="0" y="0" width="55.3" height="82.3" fill="url(#rcn)"/><rect x="0" y="0" width="55.3" height="82.3" fill="url(#rjb)"/><rect x="0" y="0" width="55.3" height="82.3" fill="url(#rdg)"/><rect x="0" y="0" width="55.3" height="82.3" fill="url(#rjn)"/><rect x="0" y="0" width="55.3" height="82.3" fill="url(#rgw)"/></g></g></g><use href="#is" fill="rgb(70,140,0)"/><use href="#jj"/><use href="#nk" class="nk"/><rect class="fr" x="0" y="0" width="55.3" height="82.3"/><line class="tk" x1="7.95" y1="82.3" x2="7.95" y2="84.3"/><text class="a" x="7.95" y="90.3">126°E</text><line class="tk" x1="29.87" y1="82.3" x2="29.87" y2="84.3"/><text class="a" x="29.87" y="90.3">128°E</text><line class="tk" x1="51.79" y1="82.3" x2="51.79" y2="84.3"/><text class="a" x="51.79" y="90.3">130°E</text><line class="tk" x1="-2" y1="10.50" x2="0" y2="10.50"/><text class="a" transform="translate(-4.5 10.50) rotate(-90)">38°N</text><line class="tk" x1="-2" y1="37.86" x2="0" y2="37.86"/><text class="a" transform="translate(-4.5 37.86) rotate(-90)">36°N</text><line class="tk" x1="-2" y1="65.22" x2="0" y2="65.22"/><text class="a" transform="translate(-4.5 65.22) rotate(-90)">34°N</text><text class="t" x="27.65" y="-0.5">24 Jul 2020</text></g>
<g transform="translate(417.52 15.10)"><g filter="url(#eb)"><g clip-path="url(#kc)"><g filter="url(#f6)"><rect x="0" y="0" width="55.3" height="82.3" fill="url(#g6)"/><rect x="0" y="0" width="55.3" height="82.3" fill="url(#rw)"/><rect x="0" y="0" width="55.3" height="82.3" fill="url(#rcn)"/><rect x="0" y="0" width="55.3" height="82.3" fill="url(#rjb)"/><rect x="0" y="0" width="55.3" height="82.3" fill="url(#rdg)"/><rect x="0" y="0" width="55.3" height="82.3" fill="url(#rjn)"/><rect x="0" y="0" width="55.3" height="82.3" fill="url(#rgw)"/></g></g></g><use href="#is" fill="rgb(70,140,0)"/><use href="#jj"/><use href="#nk" class="nk"/><rect class="fr" x="0" y="0" width="55.3" height="82.3"/><line class="tk" x1="7.95" y1="82.3" x2="7.95" y2="84.3"/><text class="a" x="7.95" y="90.3">126°E</text><line class="tk" x1="29.87" y1="82.3" x2="29.87" y2="84.3"/><text class="a" x="29.87" y="90.3">128°E</text><line class="tk" x1="51.79" y1="82.3" x2="51.79" y2="84.3"/><text class="a" x="51.79" y="90.3">130°E</text><line class="tk" x1="-2" y1="10.50" x2="0" y2="10.50"/><text class="a" transform="translate(-4.5 10.50) rotate(-90)">38°N</text><line class="tk" x1="-2" y1="37.86" x2="0" y2="37.86"/><text class="a" transform="translate(-4.5 37.86) rotate(-90)">36°N</text><line class="tk" x1="-2" y1="65.22" x2="0" y2="65.22"/><text class="a" transform="translate(-4.5 65.22) rotate(-90)">34°N</text><text class="t" x="27.65" y="-0.5">25 Jul 2020</text></g>
<g transform="translate(484.84 15.10)"><g filter="url(#eb)"><g clip-path="url(#kc)"><g filter="url(#f7)"><rect x="0" y="0" width="55.3" height="82.3" fill="url(#g7)"/><rect x="0" y="0" width="55.3" height="82.3" fill="url(#rw)"/><rect x="0" y="0" width="55.3" height="82.3" fill="url(#rcn)"/><rect x="0" y="0" width="55.3" height="82.3" fill="url(#rjb)"/><rect x="0" y="0" width="55.3" height="82.3" fill="url(#rdg)"/><rect x="0" y="0" width="55.3" height="82.3" fill="url(#rjn)"/><rect x="0" y="0" width="55.3" height="82.3" fill="url(#rgw)"/></g></g></g><use href="#is" fill="rgb(70,140,0)"/><use href="#jj"/><use href="#nk" class="nk"/><rect class="fr" x="0" y="0" width="55.3" height="82.3"/><line class="tk" x1="7.95" y1="82.3" x2="7.95" y2="84.3"/><text class="a" x="7.95" y="90.3">126°E</text><line class="tk" x1="29.87" y1="82.3" x2="29.87" y2="84.3"/><text class="a" x="29.87" y="90.3">128°E</text><line class="tk" x1="51.79" y1="82.3" x2="51.79" y2="84.3"/><text class="a" x="51.79" y="90.3">130°E</text><line class="tk" x1="-2" y1="10.50" x2="0" y2="10.50"/><text class="a" transform="translate(-4.5 10.50) rotate(-90)">38°N</text><line class="tk" x1="-2" y1="37.86" x2="0" y2="37.86"/><text class="a" transform="translate(-4.5 37.86) rotate(-90)">36°N</text><line class="tk" x1="-2" y1="65.22" x2="0" y2="65.22"/><text class="a" transform="translate(-4.5 65.22) rotate(-90)">34°N</text><text class="t" x="27.65" y="-0.5">26 Jul 2020</text></g>
<g transform="translate(13.60 112.35)"><g filter="url(#eb)"><g clip-path="url(#kc)"><g filter="url(#f8)"><rect x="0" y="0" width="55.3" height="82.3" fill="url(#g8)"/><rect x="0" y="0" width="55.3" height="82.3" fill="url(#rw)"/><rect x="0" y="0" width="55.3" height="82.3" fill="url(#rcn)"/><rect x="0" y="0" width="55.3" height="82.3" fill="url(#rjb)"/><rect x="0" y="0" width="55.3" height="82.3" fill="url(#rdg)"/><rect x="0" y="0" width="55.3" height="82.3" fill="url(#rjn)"/><rect x="0" y="0" width="55.3" height="82.3" fill="url(#rgw)"/></g></g></g><use href="#is" fill="rgb(70,140,0)"/><use href="#jj"/><use href="#nk" class="nk"/><rect class="fr" x="0" y="0" width="55.3" height="82.3"/><line class="tk" x1="7.95" y1="82.3" x2="7.95" y2="84.3"/><text class="a" x="7.95" y="90.3">126°E</text><line class="tk" x1="29.87" y1="82.3" x2="29.87" y2="84.3"/><text class="a" x="29.87" y="90.3">128°E</text><line class="tk" x1="51.79" y1="82.3" x2="51.79" y2="84.3"/><text class="a" x="51.79" y="90.3">130°E</text><line class="tk" x1="-2" y1="10.50" x2="0" y2="10.50"/><text class="a" transform="translate(-4.5 10.50) rotate(-90)">38°N</text><line class="tk" x1="-2" y1="37.86" x2="0" y2="37.86"/><text class="a" transform="translate(-4.5 37.86) rotate(-90)">36°N</text><line class="tk" x1="-2" y1="65.22" x2="0" y2="65.22"/><text class="a" transform="translate(-4.5 65.22) rotate(-90)">34°N</text><text class="t" x="27.65" y="-0.5">27 Jul 2020</text></g>
<g transform="translate(80.92 112.35)"><g filter="url(#eb)"><g clip-path="url(#kc)"><g filter="url(#f9)"><rect x="0" y="0" width="55.3" height="82.3" fill="url(#g9)"/><rect x="0" y="0" width="55.3" height="82.3" fill="url(#rw)"/><rect x="0" y="0" width="55.3" height="82.3" fill="url(#rcn)"/><rect x="0" y="0" width="55.3" height="82.3" fill="url(#rjb)"/><rect x="0" y="0" width="55.3" height="82.3" fill="url(#rdg)"/><rect x="0" y="0" width="55.3" height="82.3" fill="url(#rjn)"/><rect x="0" y="0" width="55.3" height="82.3" fill="url(#rgw)"/></g></g></g><use href="#is" fill="rgb(70,140,0)"/><use href="#jj"/><use href="#nk" class="nk"/><rect class="fr" x="0" y="0" width="55.3" height="82.3"/><line class="tk" x1="7.95" y1="82.3" x2="7.95" y2="84.3"/><text class="a" x="7.95" y="90.3">126°E</text><line class="tk" x1="29.87" y1="82.3" x2="29.87" y2="84.3"/><text class="a" x="29.87" y="90.3">128°E</text><line class="tk" x1="51.79" y1="82.3" x2="51.79" y2="84.3"/><text class="a" x="51.79" y="90.3">130°E</text><line class="tk" x1="-2" y1="10.50" x2="0" y2="10.50"/><text class="a" transform="translate(-4.5 10.50) rotate(-90)">38°N</text><line class="tk" x1="-2" y1="37.86" x2="0" y2="37.86"/><text class="a" transform="translate(-4.5 37.86) rotate(-90)">36°N</text><line class="tk" x1="-2" y1="65.22" x2="0" y2="65.22"/><text class="a" transform="translate(-4.5 65.22) rotate(-90)">34°N</text><text class="t" x="27.65" y="-0.5">28 Jul 2020</text></g>
<g transform="translate(148.24 112.35)"><g filter="url(#eb)"><g clip-path="url(#kc)"><g filter="url(#f10)"><rect x="0" y="0" width="55.3" height="82.3" fill="url(#g10)"/><rect x="0" y="0" width="55.3" height="82.3" fill="url(#rw)"/><rect x="0" y="0" width="55.3" height="82.3" fill="url(#rcn)"/><rect x="0" y="0" width="55.3" height="82.3" fill="url(#rjb)"/><rect x="0" y="0" width="55.3" height="82.3" fill="url(#rdg)"/><rect x="0" y="0" width="55.3" height="82.3" fill="url(#rjn)"/><rect x="0" y="0" width="55.3" height="82.3" fill="url(#rgw)"/></g></g></g><use href="#is" fill="rgb(70,140,0)"/><use href="#jj"/><use href="#nk" class="nk"/><rect class="fr" x="0" y="0" width="55.3" height="82.3"/><line class="tk" x1="7.95" y1="82.3" x2="7.95" y2="84.3"/><text class="a" x="7.95" y="90.3">126°E</text><line class="tk" x1="29.87" y1="82.3" x2="29.87" y2="84.3"/><text class="a" x="29.87" y="90.3">128°E</text><line class="tk" x1="51.79" y1="82.3" x2="51.79" y2="84.3"/><text class="a" x="51.79" y="90.3">130°E</text><line class="tk" x1="-2" y1="10.50" x2="0" y2="10.50"/><text class="a" transform="translate(-4.5 10.50) rotate(-90)">38°N</text><line class="tk" x1="-2" y1="37.86" x2="0" y2="37.86"/><text class="a" transform="translate(-4.5 37.86) rotate(-90)">36°N</text><line class="tk" x1="-2" y1="65.22" x2="0" y2="65.22"/><text class="a" transform="translate(-4.5 65.22) rotate(-90)">34°N</text><text class="t" x="27.65" y="-0.5">29 Jul 2020</text></g>
<g transform="translate(215.56 112.35)"><g filter="url(#eb)"><g clip-path="url(#kc)"><g filter="url(#f11)"><rect x="0" y="0" width="55.3" height="82.3" fill="url(#g11)"/><rect x="0" y="0" width="55.3" height="82.3" fill="url(#rw)"/><rect x="0" y="0" width="55.3" height="82.3" fill="url(#rcn)"/><rect x="0" y="0" width="55.3" height="82.3" fill="url(#rjb)"/><rect x="0" y="0" width="55.3" height="82.3" fill="url(#rdg)"/><rect x="0" y="0" width="55.3" height="82.3" fill="url(#rjn)"/><rect x="0" y="0" width="55.3" height="82.3" fill="url(#rgw)"/></g></g></g><use href="#is" fill="rgb(70,140,0)"/><use href="#jj"/><use href="#nk" class="nk"/><rect class="fr" x="0" y="0" width="55.3" height="82.3"/><line class="tk" x1="7.95" y1="82.3" x2="7.95" y2="84.3"/><text class="a" x="7.95" y="90.3">126°E</text><line class="tk" x1="29.87" y1="82.3" x2="29.87" y2="84.3"/><text class="a" x="29.87" y="90.3">128°E</text><line class="tk" x1="51.79" y1="82.3" x2="51.79" y2="84.3"/><text class="a" x="51.79" y="90.3">130°E</text><line class="tk" x1="-2" y1="10.50" x2="0" y2="10.50"/><text class="a" transform="translate(-4.5 10.50) rotate(-90)">38°N</text><line class="tk" x1="-2" y1="37.86" x2="0" y2="37.86"/><text class="a" transform="translate(-4.5 37.86) rotate(-90)">36°N</text><line class="tk" x1="-2" y1="65.22" x2="0" y2="65.22"/><text class="a" transform="translate(-4.5 65.22) rotate(-90)">34°N</text><text class="t" x="27.65" y="-0.5">30 Jul 2020</text></g>
<g transform="translate(282.88 112.35)"><g filter="url(#eb)"><g clip-path="url(#kc)"><g filter="url(#f12)"><rect x="0" y="0" width="55.3" height="82.3" fill="url(#g12)"/><rect x="0" y="0" width="55.3" height="82.3" fill="url(#rw)"/><rect x="0" y="0" width="55.3" height="82.3" fill="url(#rcn)"/><rect x="0" y="0" width="55.3" height="82.3" fill="url(#rjb)"/><rect x="0" y="0" width="55.3" height="82.3" fill="url(#rdg)"/><rect x="0" y="0" width="55.3" height="82.3" fill="url(#rjn)"/><rect x="0" y="0" width="55.3" height="82.3" fill="url(#rgw)"/></g></g></g><use href="#is" fill="rgb(70,140,0)"/><use href="#jj"/><use href="#nk" class="nk"/><rect class="fr" x="0" y="0" width="55.3" height="82.3"/><line class="tk" x1="7.95" y1="82.3" x2="7.95" y2="84.3"/><text class="a" x="7.95" y="90.3">126°E</text><line class="tk" x1="29.87" y1="82.3" x2="29.87" y2="84.3"/><text class="a" x="29.87" y="90.3">128°E</text><line class="tk" x1="51.79" y1="82.3" x2="51.79" y2="84.3"/><text class="a" x="51.79" y="90.3">130°E</text><line class="tk" x1="-2" y1="10.50" x2="0" y2="10.50"/><text class="a" transform="translate(-4.5 10.50) rotate(-90)">38°N</text><line class="tk" x1="-2" y1="37.86" x2="0" y2="37.86"/><text class="a" transform="translate(-4.5 37.86) rotate(-90)">36°N</text><line class="tk" x1="-2" y1="65.22" x2="0" y2="65.22"/><text class="a" transform="translate(-4.5 65.22) rotate(-90)">34°N</text><text class="t" x="27.65" y="-0.5">31 Jul 2020</text></g>
<g transform="translate(350.20 112.35)"><g filter="url(#eb)"><g clip-path="url(#kc)"><g filter="url(#f13)"><rect x="0" y="0" width="55.3" height="82.3" fill="url(#g13)"/><rect x="0" y="0" width="55.3" height="82.3" fill="url(#rw)"/><rect x="0" y="0" width="55.3" height="82.3" fill="url(#rcn)"/><rect x="0" y="0" width="55.3" height="82.3" fill="url(#rjb)"/><rect x="0" y="0" width="55.3" height="82.3" fill="url(#rdg)"/><rect x="0" y="0" width="55.3" height="82.3" fill="url(#rjn)"/><rect x="0" y="0" width="55.3" height="82.3" fill="url(#rgw)"/></g></g></g><use href="#is" fill="rgb(70,140,0)"/><use href="#jj"/><use href="#nk" class="nk"/><rect class="fr" x="0" y="0" width="55.3" height="82.3"/><line class="tk" x1="7.95" y1="82.3" x2="7.95" y2="84.3"/><text class="a" x="7.95" y="90.3">126°E</text><line class="tk" x1="29.87" y1="82.3" x2="29.87" y2="84.3"/><text class="a" x="29.87" y="90.3">128°E</text><line class="tk" x1="51.79" y1="82.3" x2="51.79" y2="84.3"/><text class="a" x="51.79" y="90.3">130°E</text><line class="tk" x1="-2" y1="10.50" x2="0" y2="10.50"/><text class="a" transform="translate(-4.5 10.50) rotate(-90)">38°N</text><line class="tk" x1="-2" y1="37.86" x2="0" y2="37.86"/><text class="a" transform="translate(-4.5 37.86) rotate(-90)">36°N</text><line class="tk" x1="-2" y1="65.22" x2="0" y2="65.22"/><text class="a" transform="translate(-4.5 65.22) rotate(-90)">34°N</text><text class="t" x="27.65" y="-0.5">01 Aug 2020</text></g>
<g transform="translate(417.52 112.35)"><g filter="url(#eb)"><g clip-path="url(#kc)"><g filter="url(#f14)"><rect x="0" y="0" width="55.3" height="82.3" fill="url(#g14)"/><rect x="0" y="0" width="55.3" height="82.3" fill="url(#rw)"/><rect x="0" y="0" width="55.3" height="82.3" fill="url(#rcn)"/><rect x="0" y="0" width="55.3" height="82.3" fill="url(#rjb)"/><rect x="0" y="0" width="55.3" height="82.3" fill="url(#rdg)"/><rect x="0" y="0" width="55.3" height="82.3" fill="url(#rjn)"/><rect x="0" y="0" width="55.3" height="82.3" fill="url(#rgw)"/></g></g></g><use href="#is" fill="rgb(70,140,0)"/><use href="#jj"/><use href="#nk" class="nk"/><rect class="fr" x="0" y="0" width="55.3" height="82.3"/><line class="tk" x1="7.95" y1="82.3" x2="7.95" y2="84.3"/><text class="a" x="7.95" y="90.3">126°E</text><line class="tk" x1="29.87" y1="82.3" x2="29.87" y2="84.3"/><text class="a" x="29.87" y="90.3">128°E</text><line class="tk" x1="51.79" y1="82.3" x2="51.79" y2="84.3"/><text class="a" x="51.79" y="90.3">130°E</text><line class="tk" x1="-2" y1="10.50" x2="0" y2="10.50"/><text class="a" transform="translate(-4.5 10.50) rotate(-90)">38°N</text><line class="tk" x1="-2" y1="37.86" x2="0" y2="37.86"/><text class="a" transform="translate(-4.5 37.86) rotate(-90)">36°N</text><line class="tk" x1="-2" y1="65.22" x2="0" y2="65.22"/><text class="a" transform="translate(-4.5 65.22) rotate(-90)">34°N</text><text class="t" x="27.65" y="-0.5">02 Aug 2020</text></g>
<g transform="translate(484.84 112.35)"><g filter="url(#eb)"><g clip-path="url(#kc)"><g filter="url(#f15)"><rect x="0" y="0" width="55.3" height="82.3" fill="url(#g15)"/><rect x="0" y="0" width="55.3" height="82.3" fill="url(#rw)"/><rect x="0" y="0" width="55.3" height="82.3" fill="url(#rcn)"/><rect x="0" y="0" width="55.3" height="82.3" fill="url(#rjb)"/><rect x="0" y="0" width="55.3" height="82.3" fill="url(#rdg)"/><rect x="0" y="0" width="55.3" height="82.3" fill="url(#rjn)"/><rect x="0" y="0" width="55.3" height="82.3" fill="url(#rgw)"/></g></g></g><use href="#is" fill="rgb(70,140,0)"/><use href="#jj"/><use href="#nk" class="nk"/><rect class="fr" x="0" y="0" width="55.3" height="82.3"/><line class="tk" x1="7.95" y1="82.3" x2="7.95" y2="84.3"/><text class="a" x="7.95" y="90.3">126°E</text><line class="tk" x1="29.87" y1="82.3" x2="29.87" y2="84.3"/><text class="a" x="29.87" y="90.3">128°E</text><line class="tk" x1="51.79" y1="82.3" x2="51.79" y2="84.3"/><text class="a" x="51.79" y="90.3">130°E</text><line class="tk" x1="-2" y1="10.50" x2="0" y2="10.50"/><text class="a" transform="translate(-4.5 10.50) rotate(-90)">38°N</text><line class="tk" x1="-2" y1="37.86" x2="0" y2="37.86"/><text class="a" transform="translate(-4.5 37.86) rotate(-90)">36°N</text><line class="tk" x1="-2" y1="65.22" x2="0" y2="65.22"/><text class="a" transform="translate(-4.5 65.22) rotate(-90)">34°N</text><text class="t" x="27.65" y="-0.5">03 Aug 2020</text></g>
<g transform="translate(13.60 209.60)"><g filter="url(#eb)"><g clip-path="url(#kc)"><g filter="url(#f16)"><rect x="0" y="0" width="55.3" height="82.3" fill="url(#g16)"/><rect x="0" y="0" width="55.3" height="82.3" fill="url(#rw)"/><rect x="0" y="0" width="55.3" height="82.3" fill="url(#rcn)"/><rect x="0" y="0" width="55.3" height="82.3" fill="url(#rjb)"/><rect x="0" y="0" width="55.3" height="82.3" fill="url(#rdg)"/><rect x="0" y="0" width="55.3" height="82.3" fill="url(#rjn)"/><rect x="0" y="0" width="55.3" height="82.3" fill="url(#rgw)"/></g></g></g><use href="#is" fill="rgb(70,140,0)"/><use href="#jj"/><use href="#nk" class="nk"/><rect class="fr" x="0" y="0" width="55.3" height="82.3"/><line class="tk" x1="7.95" y1="82.3" x2="7.95" y2="84.3"/><text class="a" x="7.95" y="90.3">126°E</text><line class="tk" x1="29.87" y1="82.3" x2="29.87" y2="84.3"/><text class="a" x="29.87" y="90.3">128°E</text><line class="tk" x1="51.79" y1="82.3" x2="51.79" y2="84.3"/><text class="a" x="51.79" y="90.3">130°E</text><line class="tk" x1="-2" y1="10.50" x2="0" y2="10.50"/><text class="a" transform="translate(-4.5 10.50) rotate(-90)">38°N</text><line class="tk" x1="-2" y1="37.86" x2="0" y2="37.86"/><text class="a" transform="translate(-4.5 37.86) rotate(-90)">36°N</text><line class="tk" x1="-2" y1="65.22" x2="0" y2="65.22"/><text class="a" transform="translate(-4.5 65.22) rotate(-90)">34°N</text><text class="t" x="27.65" y="-0.5">04 Aug 2020</text></g>
<g transform="translate(80.92 209.60)"><g filter="url(#eb)"><g clip-path="url(#kc)"><g filter="url(#f17)"><rect x="0" y="0" width="55.3" height="82.3" fill="url(#g17)"/><rect x="0" y="0" width="55.3" height="82.3" fill="url(#rw)"/><rect x="0" y="0" width="55.3" height="82.3" fill="url(#rcn)"/><rect x="0" y="0" width="55.3" height="82.3" fill="url(#rjb)"/><rect x="0" y="0" width="55.3" height="82.3" fill="url(#rdg)"/><rect x="0" y="0" width="55.3" height="82.3" fill="url(#rjn)"/><rect x="0" y="0" width="55.3" height="82.3" fill="url(#rgw)"/></g></g></g><use href="#is" fill="rgb(70,140,0)"/><use href="#jj"/><use href="#nk" class="nk"/><rect class="fr" x="0" y="0" width="55.3" height="82.3"/><line class="tk" x1="7.95" y1="82.3" x2="7.95" y2="84.3"/><text class="a" x="7.95" y="90.3">126°E</text><line class="tk" x1="29.87" y1="82.3" x2="29.87" y2="84.3"/><text class="a" x="29.87" y="90.3">128°E</text><line class="tk" x1="51.79" y1="82.3" x2="51.79" y2="84.3"/><text class="a" x="51.79" y="90.3">130°E</text><line class="tk" x1="-2" y1="10.50" x2="0" y2="10.50"/><text class="a" transform="translate(-4.5 10.50) rotate(-90)">38°N</text><line class="tk" x1="-2" y1="37.86" x2="0" y2="37.86"/><text class="a" transform="translate(-4.5 37.86) rotate(-90)">36°N</text><line class="tk" x1="-2" y1="65.22" x2="0" y2="65.22"/><text class="a" transform="translate(-4.5 65.22) rotate(-90)">34°N</text><text class="t" x="27.65" y="-0.5">05 Aug 2020</text></g>
<g transform="translate(148.24 209.60)"><g filter="url(#eb)"><g clip-path="url(#kc)"><g filter="url(#f18)"><rect x="0" y="0" width="55.3" height="82.3" fill="url(#g18)"/><rect x="0" y="0" width="55.3" height="82.3" fill="url(#rw)"/><rect x="0" y="0" width="55.3" height="82.3" fill="url(#rcn)"/><rect x="0" y="0" width="55.3" height="82.3" fill="url(#rjb)"/><rect x="0" y="0" width="55.3" height="82.3" fill="url(#rdg)"/><rect x="0" y="0" width="55.3" height="82.3" fill="url(#rjn)"/><rect x="0" y="0" width="55.3" height="82.3" fill="url(#rgw)"/></g></g></g><use href="#is" fill="rgb(70,140,0)"/><use href="#jj"/><use href="#nk" class="nk"/><rect class="fr" x="0" y="0" width="55.3" height="82.3"/><line class="tk" x1="7.95" y1="82.3" x2="7.95" y2="84.3"/><text class="a" x="7.95" y="90.3">126°E</text><line class="tk" x1="29.87" y1="82.3" x2="29.87" y2="84.3"/><text class="a" x="29.87" y="90.3">128°E</text><line class="tk" x1="51.79" y1="82.3" x2="51.79" y2="84.3"/><text class="a" x="51.79" y="90.3">130°E</text><line class="tk" x1="-2" y1="10.50" x2="0" y2="10.50"/><text class="a" transform="translate(-4.5 10.50) rotate(-90)">38°N</text><line class="tk" x1="-2" y1="37.86" x2="0" y2="37.86"/><text class="a" transform="translate(-4.5 37.86) rotate(-90)">36°N</text><line class="tk" x1="-2" y1="65.22" x2="0" y2="65.22"/><text class="a" transform="translate(-4.5 65.22) rotate(-90)">34°N</text><text class="t" x="27.65" y="-0.5">06 Aug 2020</text></g>
<g transform="translate(215.56 209.60)"><g filter="url(#eb)"><g clip-path="url(#kc)"><g filter="url(#f19)"><rect x="0" y="0" width="55.3" height="82.3" fill="url(#g19)"/><rect x="0" y="0" width="55.3" height="82.3" fill="url(#rw)"/><rect x="0" y="0" width="55.3" height="82.3" fill="url(#rcn)"/><rect x="0" y="0" width="55.3" height="82.3" fill="url(#rjb)"/><rect x="0" y="0" width="55.3" height="82.3" fill="url(#rdg)"/><rect x="0" y="0" width="55.3" height="82.3" fill="url(#rjn)"/><rect x="0" y="0" width="55.3" height="82.3" fill="url(#rgw)"/></g></g></g><use href="#is" fill="rgb(70,140,0)"/><use href="#jj"/><use href="#nk" class="nk"/><rect class="fr" x="0" y="0" width="55.3" height="82.3"/><line class="tk" x1="7.95" y1="82.3" x2="7.95" y2="84.3"/><text class="a" x="7.95" y="90.3">126°E</text><line class="tk" x1="29.87" y1="82.3" x2="29.87" y2="84.3"/><text class="a" x="29.87" y="90.3">128°E</text><line class="tk" x1="51.79" y1="82.3" x2="51.79" y2="84.3"/><text class="a" x="51.79" y="90.3">130°E</text><line class="tk" x1="-2" y1="10.50" x2="0" y2="10.50"/><text class="a" transform="translate(-4.5 10.50) rotate(-90)">38°N</text><line class="tk" x1="-2" y1="37.86" x2="0" y2="37.86"/><text class="a" transform="translate(-4.5 37.86) rotate(-90)">36°N</text><line class="tk" x1="-2" y1="65.22" x2="0" y2="65.22"/><text class="a" transform="translate(-4.5 65.22) rotate(-90)">34°N</text><text class="t" x="27.65" y="-0.5">07 Aug 2020</text></g>
<g transform="translate(282.88 209.60)"><g filter="url(#eb)"><g clip-path="url(#kc)"><g filter="url(#f20)"><rect x="0" y="0" width="55.3" height="82.3" fill="url(#g20)"/><rect x="0" y="0" width="55.3" height="82.3" fill="url(#rw)"/><rect x="0" y="0" width="55.3" height="82.3" fill="url(#rcn)"/><rect x="0" y="0" width="55.3" height="82.3" fill="url(#rjb)"/><rect x="0" y="0" width="55.3" height="82.3" fill="url(#rdg)"/><rect x="0" y="0" width="55.3" height="82.3" fill="url(#rjn)"/><rect x="0" y="0" width="55.3" height="82.3" fill="url(#rgw)"/></g></g></g><use href="#is" fill="rgb(70,140,0)"/><use href="#jj"/><use href="#nk" class="nk"/><rect class="fr" x="0" y="0" width="55.3" height="82.3"/><line class="tk" x1="7.95" y1="82.3" x2="7.95" y2="84.3"/><text class="a" x="7.95" y="90.3">126°E</text><line class="tk" x1="29.87" y1="82.3" x2="29.87" y2="84.3"/><text class="a" x="29.87" y="90.3">128°E</text><line class="tk" x1="51.79" y1="82.3" x2="51.79" y2="84.3"/><text class="a" x="51.79" y="90.3">130°E</text><line class="tk" x1="-2" y1="10.50" x2="0" y2="10.50"/><text class="a" transform="translate(-4.5 10.50) rotate(-90)">38°N</text><line class="tk" x1="-2" y1="37.86" x2="0" y2="37.86"/><text class="a" transform="translate(-4.5 37.86) rotate(-90)">36°N</text><line class="tk" x1="-2" y1="65.22" x2="0" y2="65.22"/><text class="a" transform="translate(-4.5 65.22) rotate(-90)">34°N</text><text class="t" x="27.65" y="-0.5">08 Aug 2020</text></g>
<g transform="translate(350.20 209.60)"><g filter="url(#eb)"><g clip-path="url(#kc)"><g filter="url(#f21)"><rect x="0" y="0" width="55.3" height="82.3" fill="url(#g21)"/><rect x="0" y="0" width="55.3" height="82.3" fill="url(#rw)"/><rect x="0" y="0" width="55.3" height="82.3" fill="url(#rcn)"/><rect x="0" y="0" width="55.3" height="82.3" fill="url(#rjb)"/><rect x="0" y="0" width="55.3" height="82.3" fill="url(#rdg)"/><rect x="0" y="0" width="55.3" height="82.3" fill="url(#rjn)"/><rect x="0" y="0" width="55.3" height="82.3" fill="url(#rgw)"/></g></g></g><use href="#is" fill="rgb(70,140,0)"/><use href="#jj"/><use href="#nk" class="nk"/><rect class="fr" x="0" y="0" width="55.3" height="82.3"/><line class="tk" x1="7.95" y1="82.3" x2="7.95" y2="84.3"/><text class="a" x="7.95" y="90.3">126°E</text><line class="tk" x1="29.87" y1="82.3" x2="29.87" y2="84.3"/><text class="a" x="29.87" y="90.3">128°E</text><line class="tk" x1="51.79" y1="82.3" x2="51.79" y2="84.3"/><text class="a" x="51.79" y="90.3">130°E</text><line class="tk" x1="-2" y1="10.50" x2="0" y2="10.50"/><text class="a" transform="translate(-4.5 10.50) rotate(-90)">38°N</text><line class="tk" x1="-2" y1="37.86" x2="0" y2="37.86"/><text class="a" transform="translate(-4.5 37.86) rotate(-90)">36°N</text><line class="tk" x1="-2" y1="65.22" x2="0" y2="65.22"/><text class="a" transform="translate(-4.5 65.22) rotate(-90)">34°N</text><text class="t" x="27.65" y="-0.5">09 Aug 2020</text></g>
<g transform="translate(417.52 209.60)"><g filter="url(#eb)"><g clip-path="url(#kc)"><g filter="url(#f22)"><rect x="0" y="0" width="55.3" height="82.3" fill="url(#g22)"/><rect x="0" y="0" width="55.3" height="82.3" fill="url(#rw)"/><rect x="0" y="0" width="55.3" height="82.3" fill="url(#rcn)"/><rect x="0" y="0" width="55.3" height="82.3" fill="url(#rjb)"/><rect x="0" y="0" width="55.3" height="82.3" fill="url(#rdg)"/><rect x="0" y="0" width="55.3" height="82.3" fill="url(#rjn)"/><rect x="0" y="0" width="55.3" height="82.3" fill="url(#rgw)"/></g></g></g><use href="#is" fill="rgb(70,140,0)"/><use href="#jj"/><use href="#nk" class="nk"/><rect class="fr" x="0" y="0" width="55.3" height="82.3"/><line class="tk" x1="7.95" y1="82.3" x2="7.95" y2="84.3"/><text class="a" x="7.95" y="90.3">126°E</text><line class="tk" x1="29.87" y1="82.3" x2="29.87" y2="84.3"/><text class="a" x="29.87" y="90.3">128°E</text><line class="tk" x1="51.79" y1="82.3" x2="51.79" y2="84.3"/><text class="a" x="51.79" y="90.3">130°E</text><line class="tk" x1="-2" y1="10.50" x2="0" y2="10.50"/><text class="a" transform="translate(-4.5 10.50) rotate(-90)">38°N</text><line class="tk" x1="-2" y1="37.86" x2="0" y2="37.86"/><text class="a" transform="translate(-4.5 37.86) rotate(-90)">36°N</text><line class="tk" x1="-2" y1="65.22" x2="0" y2="65.22"/><text class="a" transform="translate(-4.5 65.22) rotate(-90)">34°N</text><text class="t" x="27.65" y="-0.5">10 Aug 2020</text></g>
<g transform="translate(484.84 209.60)"><g filter="url(#eb)"><g clip-path="url(#kc)"><g filter="url(#f23)"><rect x="0" y="0" width="55.3" height="82.3" fill="url(#g23)"/><rect x="0" y="0" width="55.3" height="82.3" fill="url(#rw)"/><rect x="0" y="0" width="55.3" height="82.3" fill="url(#rcn)"/><rect x="0" y="0" width="55.3" height="82.3" fill="url(#rjb)"/><rect x="0" y="0" width="55.3" height="82.3" fill="url(#rdg)"/><rect x="0" y="0" width="55.3" height="82.3" fill="url(#rjn)"/><rect x="0" y="0" width="55.3" height="82.3" fill="url(#rgw)"/></g></g></g><use href="#is" fill="rgb(70,140,0)"/><use href="#jj"/><use href="#nk" class="nk"/><rect class="fr" x="0" y="0" width="55.3" height="82.3"/><line class="tk" x1="7.95" y1="82.3" x2="7.95" y2="84.3"/><text class="a" x="7.95" y="90.3">126°E</text><line class="tk" x1="29.87" y1="82.3" x2="29.87" y2="84.3"/><text class="a" x="29.87" y="90.3">128°E</text><line class="tk" x1="51.79" y1="82.3" x2="51.79" y2="84.3"/><text class="a" x="51.79" y="90.3">130°E</text><line class="tk" x1="-2" y1="10.50" x2="0" y2="10.50"/><text class="a" transform="translate(-4.5 10.50) rotate(-90)">38°N</text><line class="tk" x1="-2" y1="37.86" x2="0" y2="37.86"/><text class="a" transform="translate(-4.5 37.86) rotate(-90)">36°N</text><line class="tk" x1="-2" y1="65.22" x2="0" y2="65.22"/><text class="a" transform="translate(-4.5 65.22) rotate(-90)">34°N</text><text class="t" x="27.65" y="-0.5">11 Aug 2020</text></g>
<g transform="translate(13.60 306.85)"><g filter="url(#eb)"><g clip-path="url(#kc)"><g filter="url(#f24)"><rect x="0" y="0" width="55.3" height="82.3" fill="url(#g24)"/><rect x="0" y="0" width="55.3" height="82.3" fill="url(#rw)"/><rect x="0" y="0" width="55.3" height="82.3" fill="url(#rcn)"/><rect x="0" y="0" width="55.3" height="82.3" fill="url(#rjb)"/><rect x="0" y="0" width="55.3" height="82.3" fill="url(#rdg)"/><rect x="0" y="0" width="55.3" height="82.3" fill="url(#rjn)"/><rect x="0" y="0" width="55.3" height="82.3" fill="url(#rgw)"/></g></g></g><use href="#is" fill="rgb(70,140,0)"/><use href="#jj"/><use href="#nk" class="nk"/><rect class="fr" x="0" y="0" width="55.3" height="82.3"/><line class="tk" x1="7.95" y1="82.3" x2="7.95" y2="84.3"/><text class="a" x="7.95" y="90.3">126°E</text><line class="tk" x1="29.87" y1="82.3" x2="29.87" y2="84.3"/><text class="a" x="29.87" y="90.3">128°E</text><line class="tk" x1="51.79" y1="82.3" x2="51.79" y2="84.3"/><text class="a" x="51.79" y="90.3">130°E</text><line class="tk" x1="-2" y1="10.50" x2="0" y2="10.50"/><text class="a" transform="translate(-4.5 10.50) rotate(-90)">38°N</text><line class="tk" x1="-2" y1="37.86" x2="0" y2="37.86"/><text class="a" transform="translate(-4.5 37.86) rotate(-90)">36°N</text><line class="tk" x1="-2" y1="65.22" x2="0" y2="65.22"/><text class="a" transform="translate(-4.5 65.22) rotate(-90)">34°N</text><text class="t" x="27.65" y="-0.5">12 Aug 2020</text></g>
<g transform="translate(80.92 306.85)"><g filter="url(#eb)"><g clip-path="url(#kc)"><g filter="url(#f25)"><rect x="0" y="0" width="55.3" height="82.3" fill="url(#g25)"/><rect x="0" y="0" width="55.3" height="82.3" fill="url(#rw)"/><rect x="0" y="0" width="55.3" height="82.3" fill="url(#rcn)"/><rect x="0" y="0" width="55.3" height="82.3" fill="url(#rjb)"/><rect x="0" y="0" width="55.3" height="82.3" fill="url(#rdg)"/><rect x="0" y="0" width="55.3" height="82.3" fill="url(#rjn)"/><rect x="0" y="0" width="55.3" height="82.3" fill="url(#rgw)"/></g></g></g><use href="#is" fill="rgb(70,140,0)"/><use href="#jj"/><use href="#nk" class="nk"/><rect class="fr" x="0" y="0" width="55.3" height="82.3"/><line class="tk" x1="7.95" y1="82.3" x2="7.95" y2="84.3"/><text class="a" x="7.95" y="90.3">126°E</text><line class="tk" x1="29.87" y1="82.3" x2="29.87" y2="84.3"/><text class="a" x="29.87" y="90.3">128°E</text><line class="tk" x1="51.79" y1="82.3" x2="51.79" y2="84.3"/><text class="a" x="51.79" y="90.3">130°E</text><line class="tk" x1="-2" y1="10.50" x2="0" y2="10.50"/><text class="a" transform="translate(-4.5 10.50) rotate(-90)">38°N</text><line class="tk" x1="-2" y1="37.86" x2="0" y2="37.86"/><text class="a" transform="translate(-4.5 37.86) rotate(-90)">36°N</text><line class="tk" x1="-2" y1="65.22" x2="0" y2="65.22"/><text class="a" transform="translate(-4.5 65.22) rotate(-90)">34°N</text><text class="t" x="27.65" y="-0.5">13 Aug 2020</text></g>
<g transform="translate(148.24 306.85)"><g filter="url(#eb)"><g clip-path="url(#kc)"><g filter="url(#f26)"><rect x="0" y="0" width="55.3" height="82.3" fill="url(#g26)"/><rect x="0" y="0" width="55.3" height="82.3" fill="url(#rw)"/><rect x="0" y="0" width="55.3" height="82.3" fill="url(#rcn)"/><rect x="0" y="0" width="55.3" height="82.3" fill="url(#rjb)"/><rect x="0" y="0" width="55.3" height="82.3" fill="url(#rdg)"/><rect x="0" y="0" width="55.3" height="82.3" fill="url(#rjn)"/><rect x="0" y="0" width="55.3" height="82.3" fill="url(#rgw)"/></g></g></g><use href="#is" fill="rgb(70,140,0)"/><use href="#jj"/><use href="#nk" class="nk"/><rect class="fr" x="0" y="0" width="55.3" height="82.3"/><line class="tk" x1="7.95" y1="82.3" x2="7.95" y2="84.3"/><text class="a" x="7.95" y="90.3">126°E</text><line class="tk" x1="29.87" y1="82.3" x2="29.87" y2="84.3"/><text class="a" x="29.87" y="90.3">128°E</text><line class="tk" x1="51.79" y1="82.3" x2="51.79" y2="84.3"/><text class="a" x="51.79" y="90.3">130°E</text><line class="tk" x1="-2" y1="10.50" x2="0" y2="10.50"/><text class="a" transform="translate(-4.5 10.50) rotate(-90)">38°N</text><line class="tk" x1="-2" y1="37.86" x2="0" y2="37.86"/><text class="a" transform="translate(-4.5 37.86) rotate(-90)">36°N</text><line class="tk" x1="-2" y1="65.22" x2="0" y2="65.22"/><text class="a" transform="translate(-4.5 65.22) rotate(-90)">34°N</text><text class="t" x="27.65" y="-0.5">14 Aug 2020</text></g>
<g transform="translate(215.56 306.85)"><g filter="url(#eb)"><g clip-path="url(#kc)"><g filter="url(#f27)"><rect x="0" y="0" width="55.3" height="82.3" fill="url(#g27)"/><rect x="0" y="0" width="55.3" height="82.3" fill="url(#rw)"/><rect x="0" y="0" width="55.3" height="82.3" fill="url(#rcn)"/><rect x="0" y="0" width="55.3" height="82.3" fill="url(#rjb)"/><rect x="0" y="0" width="55.3" height="82.3" fill="url(#rdg)"/><rect x="0" y="0" width="55.3" height="82.3" fill="url(#rjn)"/><rect x="0" y="0" width="55.3" height="82.3" fill="url(#rgw)"/></g></g></g><use href="#is" fill="rgb(70,140,0)"/><use href="#jj"/><use href="#nk" class="nk"/><rect class="fr" x="0" y="0" width="55.3" height="82.3"/><line class="tk" x1="7.95" y1="82.3" x2="7.95" y2="84.3"/><text class="a" x="7.95" y="90.3">126°E</text><line class="tk" x1="29.87" y1="82.3" x2="29.87" y2="84.3"/><text class="a" x="29.87" y="90.3">128°E</text><line class="tk" x1="51.79" y1="82.3" x2="51.79" y2="84.3"/><text class="a" x="51.79" y="90.3">130°E</text><line class="tk" x1="-2" y1="10.50" x2="0" y2="10.50"/><text class="a" transform="translate(-4.5 10.50) rotate(-90)">38°N</text><line class="tk" x1="-2" y1="37.86" x2="0" y2="37.86"/><text class="a" transform="translate(-4.5 37.86) rotate(-90)">36°N</text><line class="tk" x1="-2" y1="65.22" x2="0" y2="65.22"/><text class="a" transform="translate(-4.5 65.22) rotate(-90)">34°N</text><text class="t" x="27.65" y="-0.5">15 Aug 2020</text></g>
<g transform="translate(282.88 306.85)"><g filter="url(#eb)"><g clip-path="url(#kc)"><g filter="url(#f28)"><rect x="0" y="0" width="55.3" height="82.3" fill="url(#g28)"/><rect x="0" y="0" width="55.3" height="82.3" fill="url(#rw)"/><rect x="0" y="0" width="55.3" height="82.3" fill="url(#rcn)"/><rect x="0" y="0" width="55.3" height="82.3" fill="url(#rjb)"/><rect x="0" y="0" width="55.3" height="82.3" fill="url(#rdg)"/><rect x="0" y="0" width="55.3" height="82.3" fill="url(#rjn)"/><rect x="0" y="0" width="55.3" height="82.3" fill="url(#rgw)"/></g></g></g><use href="#is" fill="rgb(70,140,0)"/><use href="#jj"/><use href="#nk" class="nk"/><rect class="fr" x="0" y="0" width="55.3" height="82.3"/><line class="tk" x1="7.95" y1="82.3" x2="7.95" y2="84.3"/><text class="a" x="7.95" y="90.3">126°E</text><line class="tk" x1="29.87" y1="82.3" x2="29.87" y2="84.3"/><text class="a" x="29.87" y="90.3">128°E</text><line class="tk" x1="51.79" y1="82.3" x2="51.79" y2="84.3"/><text class="a" x="51.79" y="90.3">130°E</text><line class="tk" x1="-2" y1="10.50" x2="0" y2="10.50"/><text class="a" transform="translate(-4.5 10.50) rotate(-90)">38°N</text><line class="tk" x1="-2" y1="37.86" x2="0" y2="37.86"/><text class="a" transform="translate(-4.5 37.86) rotate(-90)">36°N</text><line class="tk" x1="-2" y1="65.22" x2="0" y2="65.22"/><text class="a" transform="translate(-4.5 65.22) rotate(-90)">34°N</text><text class="t" x="27.65" y="-0.5">16 Aug 2020</text></g>
<g transform="translate(350.20 306.85)"><g filter="url(#eb)"><g clip-path="url(#kc)"><g filter="url(#f29)"><rect x="0" y="0" width="55.3" height="82.3" fill="url(#g29)"/><rect x="0" y="0" width="55.3" height="82.3" fill="url(#rw)"/><rect x="0" y="0" width="55.3" height="82.3" fill="url(#rcn)"/><rect x="0" y="0" width="55.3" height="82.3" fill="url(#rjb)"/><rect x="0" y="0" width="55.3" height="82.3" fill="url(#rdg)"/><rect x="0" y="0" width="55.3" height="82.3" fill="url(#rjn)"/><rect x="0" y="0" width="55.3" height="82.3" fill="url(#rgw)"/></g></g></g><use href="#is" fill="rgb(70,140,0)"/><use href="#jj"/><use href="#nk" class="nk"/><rect class="fr" x="0" y="0" width="55.3" height="82.3"/><line class="tk" x1="7.95" y1="82.3" x2="7.95" y2="84.3"/><text class="a" x="7.95" y="90.3">126°E</text><line class="tk" x1="29.87" y1="82.3" x2="29.87" y2="84.3"/><text class="a" x="29.87" y="90.3">128°E</text><line class="tk" x1="51.79" y1="82.3" x2="51.79" y2="84.3"/><text class="a" x="51.79" y="90.3">130°E</text><line class="tk" x1="-2" y1="10.50" x2="0" y2="10.50"/><text class="a" transform="translate(-4.5 10.50) rotate(-90)">38°N</text><line class="tk" x1="-2" y1="37.86" x2="0" y2="37.86"/><text class="a" transform="translate(-4.5 37.86) rotate(-90)">36°N</text><line class="tk" x1="-2" y1="65.22" x2="0" y2="65.22"/><text class="a" transform="translate(-4.5 65.22) rotate(-90)">34°N</text><text class="t" x="27.65" y="-0.5">17 Aug 2020</text></g>
<g transform="translate(417.52 306.85)"><g filter="url(#eb)"><g clip-path="url(#kc)"><g filter="url(#f30)"><rect x="0" y="0" width="55.3" height="82.3" fill="url(#g30)"/><rect x="0" y="0" width="55.3" height="82.3" fill="url(#rw)"/><rect x="0" y="0" width="55.3" height="82.3" fill="url(#rcn)"/><rect x="0" y="0" width="55.3" height="82.3" fill="url(#rjb)"/><rect x="0" y="0" width="55.3" height="82.3" fill="url(#rdg)"/><rect x="0" y="0" width="55.3" height="82.3" fill="url(#rjn)"/><rect x="0" y="0" width="55.3" height="82.3" fill="url(#rgw)"/></g></g></g><use href="#is" fill="rgb(70,140,0)"/><use href="#jj"/><use href="#nk" class="nk"/><rect class="fr" x="0" y="0" width="55.3" height="82.3"/><line class="tk" x1="7.95" y1="82.3" x2="7.95" y2="84.3"/><text class="a" x="7.95" y="90.3">126°E</text><line class="tk" x1="29.87" y1="82.3" x2="29.87" y2="84.3"/><text class="a" x="29.87" y="90.3">128°E</text><line class="tk" x1="51.79" y1="82.3" x2="51.79" y2="84.3"/><text class="a" x="51.79" y="90.3">130°E</text><line class="tk" x1="-2" y1="10.50" x2="0" y2="10.50"/><text class="a" transform="translate(-4.5 10.50) rotate(-90)">38°N</text><line class="tk" x1="-2" y1="37.86" x2="0" y2="37.86"/><text class="a" transform="translate(-4.5 37.86) rotate(-90)">36°N</text><line class="tk" x1="-2" y1="65.22" x2="0" y2="65.22"/><text class="a" transform="translate(-4.5 65.22) rotate(-90)">34°N</text><text class="t" x="27.65" y="-0.5">18 Aug 2020</text></g>
<g transform="translate(484.84 306.85)"><g filter="url(#eb)"><g clip-path="url(#kc)"><g filter="url(#f31)"><rect x="0" y="0" width="55.3" height="82.3" fill="url(#g31)"/><rect x="0" y="0" width="55.3" height="82.3" fill="url(#rw)"/><rect x="0" y="0" width="55.3" height="82.3" fill="url(#rcn)"/><rect x="0" y="0" width="55.3" height="82.3" fill="url(#rjb)"/><rect x="0" y="0" width="55.3" height="82.3" fill="url(#rdg)"/><rect x="0" y="0" width="55.3" height="82.3" fill="url(#rjn)"/><rect x="0" y="0" width="55.3" height="82.3" fill="url(#rgw)"/><rect x="0" y="0" width="55.3" height="82.3" fill="url(#r31)"/></g></g></g><use href="#is" fill="rgb(70,140,0)"/><use href="#jj"/><use href="#nk" class="nk"/><rect class="fr" x="0" y="0" width="55.3" height="82.3"/><line class="tk" x1="7.95" y1="82.3" x2="7.95" y2="84.3"/><text class="a" x="7.95" y="90.3">126°E</text><line class="tk" x1="29.87" y1="82.3" x2="29.87" y2="84.3"/><text class="a" x="29.87" y="90.3">128°E</text><line class="tk" x1="51.79" y1="82.3" x2="51.79" y2="84.3"/><text class="a" x="51.79" y="90.3">130°E</text><line class="tk" x1="-2" y1="10.50" x2="0" y2="10.50"/><text class="a" transform="translate(-4.5 10.50) rotate(-90)">38°N</text><line class="tk" x1="-2" y1="37.86" x2="0" y2="37.86"/><text class="a" transform="translate(-4.5 37.86) rotate(-90)">36°N</text><line class="tk" x1="-2" y1="65.22" x2="0" y2="65.22"/><text class="a" transform="translate(-4.5 65.22) rotate(-90)">34°N</text><text class="t" x="27.65" y="-0.5">19 Aug 2020</text></g>
<rect x="277.2" y="404.2" width="21.6" height="6.8" fill="#0000ff" stroke="#333" stroke-width="0.5"/>
<text x="287.6" y="420.4" font-size="8.7" fill="#222" stroke="#222" stroke-width="0.12" text-anchor="middle">NDVI = 0</text>
<rect x="320.00" y="404.5" width="23.65" height="6.2" fill="rgb(255, 0, 0)"/><rect x="343.60" y="404.5" width="21.35" height="6.2" fill="rgb(255, 57, 0)"/><rect x="364.90" y="404.5" width="21.35" height="6.2" fill="rgb(255, 113, 0)"/><rect x="386.20" y="404.5" width="21.35" height="6.2" fill="rgb(255, 170, 0)"/><rect x="407.50" y="404.5" width="21.35" height="6.2" fill="rgb(255, 227, 0)"/><rect x="428.80" y="404.5" width="21.35" height="6.2" fill="rgb(227, 238, 0)"/><rect x="450.10" y="404.5" width="21.35" height="6.2" fill="rgb(170, 203, 0)"/><rect x="471.40" y="404.5" width="21.35" height="6.2" fill="rgb(113, 169, 0)"/><rect x="492.70" y="404.5" width="21.35" height="6.2" fill="rgb(57, 134, 0)"/><rect x="514.00" y="404.5" width="21.55" height="6.2" fill="rgb(0, 100, 0)"/>
<rect x="320" y="404.5" width="215.5" height="6.2" fill="none" stroke="#222" stroke-width="0.6"/>
<line x1="320.20" y1="410.8" x2="320.20" y2="415.7" stroke="#666" stroke-width="0.9"/><text transform="translate(320.20 429.9) scale(0.91 1.1)" font-size="9.8" fill="#333" stroke="#333" stroke-width="0.12" text-anchor="middle">0.0</text>
<line x1="341.71" y1="410.8" x2="341.71" y2="415.7" stroke="#666" stroke-width="0.9"/><text transform="translate(341.71 429.9) scale(0.91 1.1)" font-size="9.8" fill="#333" stroke="#333" stroke-width="0.12" text-anchor="middle">0.1</text>
<line x1="363.22" y1="410.8" x2="363.22" y2="415.7" stroke="#666" stroke-width="0.9"/><text transform="translate(363.22 429.9) scale(0.91 1.1)" font-size="9.8" fill="#333" stroke="#333" stroke-width="0.12" text-anchor="middle">0.2</text>
<line x1="384.73" y1="410.8" x2="384.73" y2="415.7" stroke="#666" stroke-width="0.9"/><text transform="translate(384.73 429.9) scale(0.91 1.1)" font-size="9.8" fill="#333" stroke="#333" stroke-width="0.12" text-anchor="middle">0.3</text>
<line x1="406.24" y1="410.8" x2="406.24" y2="415.7" stroke="#666" stroke-width="0.9"/><text transform="translate(406.24 429.9) scale(0.91 1.1)" font-size="9.8" fill="#333" stroke="#333" stroke-width="0.12" text-anchor="middle">0.4</text>
<line x1="427.75" y1="410.8" x2="427.75" y2="415.7" stroke="#666" stroke-width="0.9"/><text transform="translate(427.75 429.9) scale(0.91 1.1)" font-size="9.8" fill="#333" stroke="#333" stroke-width="0.12" text-anchor="middle">0.5</text>
<line x1="449.26" y1="410.8" x2="449.26" y2="415.7" stroke="#666" stroke-width="0.9"/><text transform="translate(449.26 429.9) scale(0.91 1.1)" font-size="9.8" fill="#333" stroke="#333" stroke-width="0.12" text-anchor="middle">0.6</text>
<line x1="470.77" y1="410.8" x2="470.77" y2="415.7" stroke="#666" stroke-width="0.9"/><text transform="translate(470.77 429.9) scale(0.91 1.1)" font-size="9.8" fill="#333" stroke="#333" stroke-width="0.12" text-anchor="middle">0.7</text>
<line x1="492.28" y1="410.8" x2="492.28" y2="415.7" stroke="#666" stroke-width="0.9"/><text transform="translate(492.28 429.9) scale(0.91 1.1)" font-size="9.8" fill="#333" stroke="#333" stroke-width="0.12" text-anchor="middle">0.8</text>
<line x1="513.79" y1="410.8" x2="513.79" y2="415.7" stroke="#666" stroke-width="0.9"/><text transform="translate(513.79 429.9) scale(0.91 1.1)" font-size="9.8" fill="#333" stroke="#333" stroke-width="0.12" text-anchor="middle">0.9</text>
<line x1="535.30" y1="410.8" x2="535.30" y2="415.7" stroke="#666" stroke-width="0.9"/><text transform="translate(535.30 429.9) scale(0.91 1.1)" font-size="9.8" fill="#333" stroke="#333" stroke-width="0.12" text-anchor="middle">1.0</text>
</svg></body></html>
